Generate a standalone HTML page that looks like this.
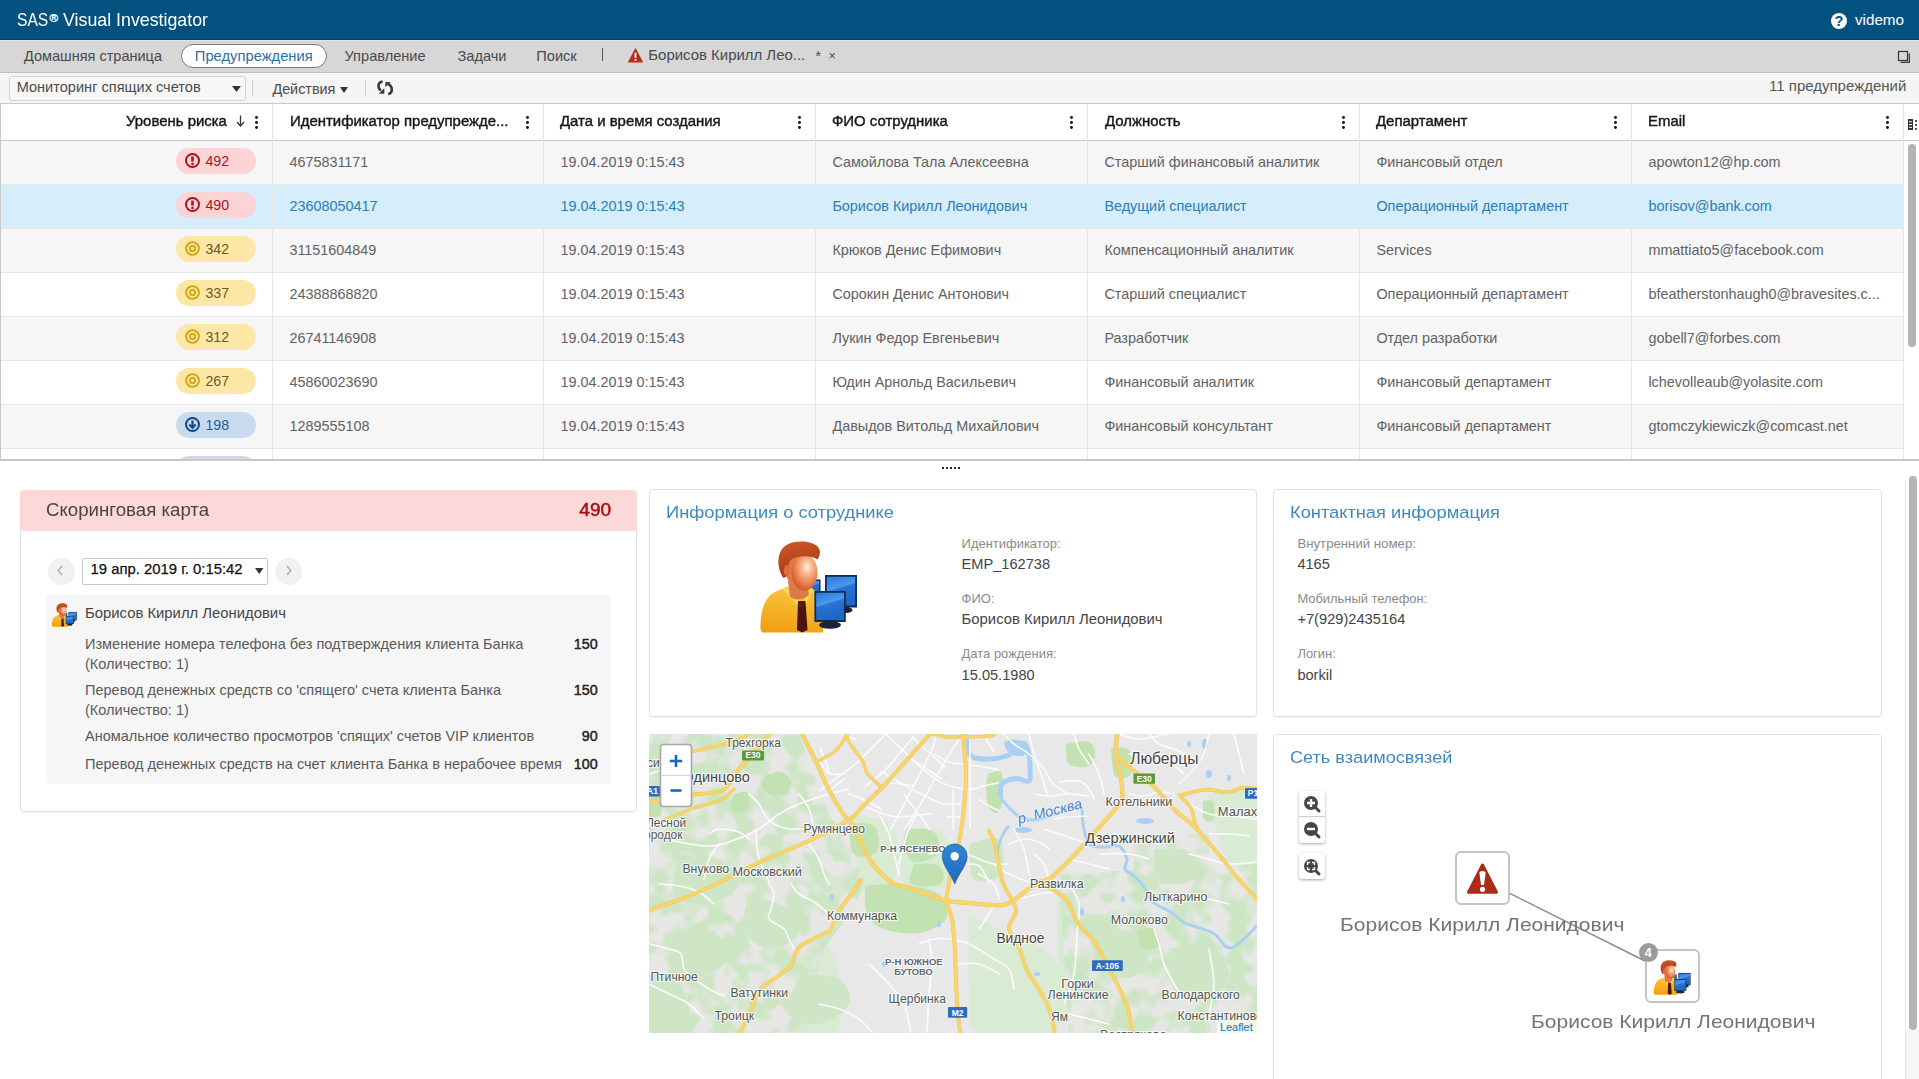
<!DOCTYPE html>
<html><head><meta charset="utf-8">
<style>
*{box-sizing:border-box}
html,body{margin:0;padding:0}
body{width:1919px;height:1079px;overflow:hidden;position:relative;background:#fff;font-family:"Liberation Sans",sans-serif;color:#444}
.a{position:absolute}
.t{position:absolute;white-space:nowrap;line-height:1}
svg.a{overflow:visible}
</style></head><body>
<div class="a" style="left:0px;top:0px;width:1919px;height:40px;background:#03517f"></div>
<div class="a" style="left:0px;top:39px;width:1919px;height:1px;background:#02466f"></div>
<div class="t" style="left:16.7px;top:10.5px;font-size:18.2px;color:#fff;transform:scaleX(0.86);transform-origin:0 0;">SAS</div>
<div class="t" style="left:49.6px;top:11.6px;font-size:11.6px;color:#fff;-webkit-text-stroke:0.35px #fff;">®</div>
<div class="t" style="left:63.0px;top:10.5px;font-size:18.2px;color:#fff;transform:scaleX(0.978);transform-origin:0 0;">Visual Investigator</div>
<svg class="a" style="left:1831px;top:13px" width="16" height="16" viewBox="0 0 16 16"><circle cx="8" cy="8" r="8" fill="#fff"/><text x="8" y="13.2" text-anchor="middle" font-family="Liberation Sans" font-weight="bold" font-size="14.5" fill="#03517f">?</text></svg>
<div class="t" style="left:1855.0px;top:11.8px;font-size:15.2px;color:#fff;">videmo</div>
<div class="a" style="left:0px;top:40px;width:1919px;height:1px;background:#dfe7ee"></div>
<div class="a" style="left:0px;top:41px;width:1919px;height:31px;background:#d7d7d7"></div>
<div class="a" style="left:0px;top:72px;width:1919px;height:1px;background:#b9bec3"></div>
<div class="t" style="left:24.0px;top:48.7px;font-size:14.5px;color:#4a4a4a;">Домашняя страница</div>
<div class="a" style="left:181px;top:44px;width:146px;height:24px;border:1px solid #6b7f8e;border-radius:12px;background:#fff"></div>
<div class="t" style="left:194.8px;top:48.7px;font-size:14.76px;color:#2d6fa0;">Предупреждения</div>
<div class="t" style="left:344.5px;top:48.6px;font-size:14.6px;color:#4a4a4a;">Управление</div>
<div class="t" style="left:457.5px;top:48.6px;font-size:14.6px;color:#4a4a4a;">Задачи</div>
<div class="t" style="left:536.3px;top:48.6px;font-size:14.6px;color:#4a4a4a;">Поиск</div>
<div class="a" style="left:602px;top:48px;width:1px;height:13px;background:#555"></div>
<svg class="a" style="left:628px;top:48px" width="15" height="15" viewBox="0 0 15 15"><path d="M7.5 1 L14.3 14 L0.7 14 Z" fill="#b5301c" stroke="#b5301c" stroke-width="1.2" stroke-linejoin="round"/><rect x="6.6" y="4.8" width="1.8" height="5" fill="#fff"/><rect x="6.6" y="11" width="1.8" height="1.8" fill="#fff"/></svg>
<div class="t" style="left:648.3px;top:48.4px;font-size:14.94px;color:#4a4a4a;">Борисов Кирилл Лео...</div>
<div class="t" style="left:815.6px;top:49.3px;font-size:14px;color:#4a4a4a;">*</div>
<div class="t" style="left:828.4px;top:50.0px;font-size:12.5px;color:#4a4a4a;">×</div>
<svg class="a" style="left:1897px;top:50px" width="14" height="14" viewBox="0 0 14 14"><rect x="1.5" y="1.5" width="9" height="9" fill="none" stroke="#333" stroke-width="1.2"/><path d="M12.3 3.5 V12.3 H3.5" fill="none" stroke="#333" stroke-width="1.2"/></svg>
<div class="a" style="left:0px;top:73px;width:1919px;height:30px;background:#f5f5f5"></div>
<div class="a" style="left:0px;top:103px;width:1919px;height:1px;background:#c9c9c9"></div>
<div class="a" style="left:9px;top:76px;width:237px;height:25px;border:1px solid #d3d3d3;border-radius:3px;background:#f7f7f7"></div>
<div class="t" style="left:16.7px;top:79.7px;font-size:14.57px;color:#4a4a4a;">Мониторинг спящих счетов</div>
<svg class="a" style="left:232px;top:86px" width="9" height="6" viewBox="0 0 9 6"><path d="M0 0H9L4.5 6Z" fill="#333"/></svg>
<div class="a" style="left:252px;top:80px;width:1px;height:16px;background:#cfcfcf"></div>
<div class="t" style="left:272.4px;top:81.7px;font-size:14.38px;color:#4a4a4a;">Действия</div>
<svg class="a" style="left:339.5px;top:86.6px" width="8" height="6" viewBox="0 0 8 6"><path d="M0 0H8L4 6Z" fill="#333"/></svg>
<div class="a" style="left:365px;top:80px;width:1px;height:16px;background:#cfcfcf"></div>
<svg class="a" style="left:376px;top:80px" width="18" height="16" viewBox="0 0 18 16"><path d="M6.6 1.4 C2.4 1.9 0.6 6.6 4.8 10.6" fill="none" stroke="#383838" stroke-width="2.5"/><path d="M2.9 13.6 L8.3 13.8 L8.3 8.3 Z" fill="#383838"/><path d="M9.5 2 L15 2.2 L9.3 7 Z" fill="#383838"/><path d="M12.4 4.2 C16.9 6.6 17.2 12.4 12.2 14.4" fill="none" stroke="#383838" stroke-width="2.5"/></svg>
<div class="t" style="right:12.7px;top:77.5px;font-size:15px;color:#555;">11 предупреждений</div>
<div class="a" style="left:0px;top:104px;width:1919px;height:36px;background:#fff"></div>
<div class="a" style="left:0px;top:140px;width:1919px;height:1px;background:#c8c8c8"></div>
<div class="a" style="left:0px;top:141px;width:1903px;height:43px;background:#f6f6f6"></div>
<div class="a" style="left:0px;top:184px;width:1903px;height:1px;background:#e6e6e6"></div>
<div class="a" style="left:0px;top:185px;width:1903px;height:43px;background:#d6edfc"></div>
<div class="a" style="left:0px;top:228px;width:1903px;height:1px;background:#e6e6e6"></div>
<div class="a" style="left:0px;top:229px;width:1903px;height:43px;background:#f6f6f6"></div>
<div class="a" style="left:0px;top:272px;width:1903px;height:1px;background:#e6e6e6"></div>
<div class="a" style="left:0px;top:273px;width:1903px;height:43px;background:#fff"></div>
<div class="a" style="left:0px;top:316px;width:1903px;height:1px;background:#e6e6e6"></div>
<div class="a" style="left:0px;top:317px;width:1903px;height:43px;background:#f6f6f6"></div>
<div class="a" style="left:0px;top:360px;width:1903px;height:1px;background:#e6e6e6"></div>
<div class="a" style="left:0px;top:361px;width:1903px;height:43px;background:#fff"></div>
<div class="a" style="left:0px;top:404px;width:1903px;height:1px;background:#e6e6e6"></div>
<div class="a" style="left:0px;top:405px;width:1903px;height:43px;background:#f6f6f6"></div>
<div class="a" style="left:0px;top:448px;width:1903px;height:1px;background:#e6e6e6"></div>
<div class="a" style="left:0px;top:449px;width:1903px;height:10px;background:#fff"></div>
<div class="a" style="left:1903px;top:141px;width:16px;height:318px;background:#fff"></div>
<div class="a" style="left:272px;top:104px;width:1px;height:355px;background:#e6e6e6"></div>
<div class="a" style="left:543px;top:104px;width:1px;height:355px;background:#e6e6e6"></div>
<div class="a" style="left:815px;top:104px;width:1px;height:355px;background:#e6e6e6"></div>
<div class="a" style="left:1087px;top:104px;width:1px;height:355px;background:#e6e6e6"></div>
<div class="a" style="left:1359px;top:104px;width:1px;height:355px;background:#e6e6e6"></div>
<div class="a" style="left:1631px;top:104px;width:1px;height:355px;background:#e6e6e6"></div>
<div class="a" style="left:1903px;top:104px;width:1px;height:355px;background:#e6e6e6"></div>
<div class="t" style="left:125.5px;top:113.7px;font-size:14px;color:#161616;transform:scaleX(1.066);transform-origin:0 0;-webkit-text-stroke:0.38px #161616;">Уровень риска</div>
<div class="t" style="left:289.5px;top:113.7px;font-size:14px;color:#161616;transform:scaleX(1.066);transform-origin:0 0;-webkit-text-stroke:0.38px #161616;">Идентификатор предупрежде...</div>
<div class="t" style="left:560.4px;top:113.7px;font-size:14px;color:#161616;transform:scaleX(1.066);transform-origin:0 0;-webkit-text-stroke:0.38px #161616;">Дата и время создания</div>
<div class="t" style="left:832.4px;top:113.7px;font-size:14px;color:#161616;transform:scaleX(1.066);transform-origin:0 0;-webkit-text-stroke:0.38px #161616;">ФИО сотрудника</div>
<div class="t" style="left:1104.8px;top:113.7px;font-size:14px;color:#161616;transform:scaleX(1.066);transform-origin:0 0;-webkit-text-stroke:0.38px #161616;">Должность</div>
<div class="t" style="left:1376.2px;top:113.7px;font-size:14px;color:#161616;transform:scaleX(1.066);transform-origin:0 0;-webkit-text-stroke:0.38px #161616;">Департамент</div>
<div class="t" style="left:1648.2px;top:113.7px;font-size:14px;color:#161616;transform:scaleX(1.066);transform-origin:0 0;-webkit-text-stroke:0.38px #161616;">Email</div>
<svg class="a" style="left:236px;top:115px" width="9" height="12" viewBox="0 0 9 12"><path d="M4.5 0.5V10" stroke="#333" stroke-width="1.3"/><path d="M1 7 L4.5 11 L8 7" fill="none" stroke="#333" stroke-width="1.3"/></svg>
<svg class="a" style="left:254.5px;top:116px" width="3" height="13" viewBox="0 0 3 13"><circle cx="1.5" cy="1.5" r="1.45" fill="#111"/><circle cx="1.5" cy="6.5" r="1.45" fill="#111"/><circle cx="1.5" cy="11.5" r="1.45" fill="#111"/></svg>
<svg class="a" style="left:525.5px;top:116px" width="3" height="13" viewBox="0 0 3 13"><circle cx="1.5" cy="1.5" r="1.45" fill="#111"/><circle cx="1.5" cy="6.5" r="1.45" fill="#111"/><circle cx="1.5" cy="11.5" r="1.45" fill="#111"/></svg>
<svg class="a" style="left:797.5px;top:116px" width="3" height="13" viewBox="0 0 3 13"><circle cx="1.5" cy="1.5" r="1.45" fill="#111"/><circle cx="1.5" cy="6.5" r="1.45" fill="#111"/><circle cx="1.5" cy="11.5" r="1.45" fill="#111"/></svg>
<svg class="a" style="left:1069.5px;top:116px" width="3" height="13" viewBox="0 0 3 13"><circle cx="1.5" cy="1.5" r="1.45" fill="#111"/><circle cx="1.5" cy="6.5" r="1.45" fill="#111"/><circle cx="1.5" cy="11.5" r="1.45" fill="#111"/></svg>
<svg class="a" style="left:1341.5px;top:116px" width="3" height="13" viewBox="0 0 3 13"><circle cx="1.5" cy="1.5" r="1.45" fill="#111"/><circle cx="1.5" cy="6.5" r="1.45" fill="#111"/><circle cx="1.5" cy="11.5" r="1.45" fill="#111"/></svg>
<svg class="a" style="left:1613.5px;top:116px" width="3" height="13" viewBox="0 0 3 13"><circle cx="1.5" cy="1.5" r="1.45" fill="#111"/><circle cx="1.5" cy="6.5" r="1.45" fill="#111"/><circle cx="1.5" cy="11.5" r="1.45" fill="#111"/></svg>
<svg class="a" style="left:1885.5px;top:116px" width="3" height="13" viewBox="0 0 3 13"><circle cx="1.5" cy="1.5" r="1.45" fill="#111"/><circle cx="1.5" cy="6.5" r="1.45" fill="#111"/><circle cx="1.5" cy="11.5" r="1.45" fill="#111"/></svg>
<svg class="a" style="left:1908px;top:117.5px" width="10" height="13" viewBox="0 0 10 13"><rect x="0" y="1" width="5" height="11" fill="#333"/><rect x="1" y="3.2" width="3" height="1" fill="#fff"/><rect x="1" y="6" width="3" height="1" fill="#fff"/><rect x="1" y="8.8" width="3" height="1" fill="#fff"/><rect x="7" y="2" width="2" height="2" fill="#555"/><rect x="7" y="6" width="2" height="2" fill="#555"/><rect x="7" y="10" width="2" height="2" fill="#555"/></svg>
<div class="a" style="left:176px;top:148px;width:80px;height:26px;border-radius:13px;background:#fdd4d6"></div>
<svg class="a" style="left:184px;top:152px" width="17" height="17" viewBox="0 0 17 17"><circle cx="8.5" cy="8.5" r="6.5" fill="none" stroke="#a8141c" stroke-width="2"/><path d="M8.5 4.5V9.5" stroke="#a8141c" stroke-width="2.6"/><circle cx="8.5" cy="11.9" r="1.3" fill="#a8141c"/></svg>
<div class="t" style="left:205.4px;top:154.0px;font-size:14.2px;color:#a8141c;">492</div>
<div class="t" style="left:289.4px;top:154.8px;font-size:14.4px;color:#626262;">4675831171</div>
<div class="t" style="left:560.4px;top:154.8px;font-size:14.4px;color:#626262;">19.04.2019 0:15:43</div>
<div class="t" style="left:832.4px;top:154.8px;font-size:14.4px;color:#626262;">Самойлова Тала Алексеевна</div>
<div class="t" style="left:1104.4px;top:154.8px;font-size:14.4px;color:#626262;">Старший финансовый аналитик</div>
<div class="t" style="left:1376.4px;top:154.8px;font-size:14.4px;color:#626262;">Финансовый отдел</div>
<div class="t" style="left:1648.4px;top:154.8px;font-size:14.4px;color:#626262;">apowton12@hp.com</div>
<div class="a" style="left:176px;top:192px;width:80px;height:26px;border-radius:13px;background:#fdd4d6"></div>
<svg class="a" style="left:184px;top:196px" width="17" height="17" viewBox="0 0 17 17"><circle cx="8.5" cy="8.5" r="6.5" fill="none" stroke="#a8141c" stroke-width="2"/><path d="M8.5 4.5V9.5" stroke="#a8141c" stroke-width="2.6"/><circle cx="8.5" cy="11.9" r="1.3" fill="#a8141c"/></svg>
<div class="t" style="left:205.4px;top:198.0px;font-size:14.2px;color:#a8141c;">490</div>
<div class="t" style="left:289.4px;top:198.8px;font-size:14.4px;color:#2a7db5;">23608050417</div>
<div class="t" style="left:560.4px;top:198.8px;font-size:14.4px;color:#2a7db5;">19.04.2019 0:15:43</div>
<div class="t" style="left:832.4px;top:198.8px;font-size:14.4px;color:#2a7db5;">Борисов Кирилл Леонидович</div>
<div class="t" style="left:1104.4px;top:198.8px;font-size:14.4px;color:#2a7db5;">Ведущий специалист</div>
<div class="t" style="left:1376.4px;top:198.8px;font-size:14.4px;color:#2a7db5;">Операционный департамент</div>
<div class="t" style="left:1648.4px;top:198.8px;font-size:14.4px;color:#2a7db5;">borisov@bank.com</div>
<div class="a" style="left:176px;top:236px;width:80px;height:26px;border-radius:13px;background:#fde7a6"></div>
<svg class="a" style="left:184px;top:240px" width="17" height="17" viewBox="0 0 17 17"><circle cx="8.5" cy="8.5" r="6.4" fill="none" stroke="#d2a406" stroke-width="1.9"/><circle cx="8.5" cy="8.5" r="2.6" fill="none" stroke="#d2a406" stroke-width="1.8"/></svg>
<div class="t" style="left:205.4px;top:242.0px;font-size:14.2px;color:#6a5a1c;">342</div>
<div class="t" style="left:289.4px;top:242.8px;font-size:14.4px;color:#626262;">31151604849</div>
<div class="t" style="left:560.4px;top:242.8px;font-size:14.4px;color:#626262;">19.04.2019 0:15:43</div>
<div class="t" style="left:832.4px;top:242.8px;font-size:14.4px;color:#626262;">Крюков Денис Ефимович</div>
<div class="t" style="left:1104.4px;top:242.8px;font-size:14.4px;color:#626262;">Компенсационный аналитик</div>
<div class="t" style="left:1376.4px;top:242.8px;font-size:14.4px;color:#626262;">Services</div>
<div class="t" style="left:1648.4px;top:242.8px;font-size:14.4px;color:#626262;">mmattiato5@facebook.com</div>
<div class="a" style="left:176px;top:280px;width:80px;height:26px;border-radius:13px;background:#fde7a6"></div>
<svg class="a" style="left:184px;top:284px" width="17" height="17" viewBox="0 0 17 17"><circle cx="8.5" cy="8.5" r="6.4" fill="none" stroke="#d2a406" stroke-width="1.9"/><circle cx="8.5" cy="8.5" r="2.6" fill="none" stroke="#d2a406" stroke-width="1.8"/></svg>
<div class="t" style="left:205.4px;top:286.0px;font-size:14.2px;color:#6a5a1c;">337</div>
<div class="t" style="left:289.4px;top:286.8px;font-size:14.4px;color:#626262;">24388868820</div>
<div class="t" style="left:560.4px;top:286.8px;font-size:14.4px;color:#626262;">19.04.2019 0:15:43</div>
<div class="t" style="left:832.4px;top:286.8px;font-size:14.4px;color:#626262;">Сорокин Денис Антонович</div>
<div class="t" style="left:1104.4px;top:286.8px;font-size:14.4px;color:#626262;">Старший специалист</div>
<div class="t" style="left:1376.4px;top:286.8px;font-size:14.4px;color:#626262;">Операционный департамент</div>
<div class="t" style="left:1648.4px;top:286.8px;font-size:14.4px;color:#626262;">bfeatherstonhaugh0@bravesites.c...</div>
<div class="a" style="left:176px;top:324px;width:80px;height:26px;border-radius:13px;background:#fde7a6"></div>
<svg class="a" style="left:184px;top:328px" width="17" height="17" viewBox="0 0 17 17"><circle cx="8.5" cy="8.5" r="6.4" fill="none" stroke="#d2a406" stroke-width="1.9"/><circle cx="8.5" cy="8.5" r="2.6" fill="none" stroke="#d2a406" stroke-width="1.8"/></svg>
<div class="t" style="left:205.4px;top:330.0px;font-size:14.2px;color:#6a5a1c;">312</div>
<div class="t" style="left:289.4px;top:330.8px;font-size:14.4px;color:#626262;">26741146908</div>
<div class="t" style="left:560.4px;top:330.8px;font-size:14.4px;color:#626262;">19.04.2019 0:15:43</div>
<div class="t" style="left:832.4px;top:330.8px;font-size:14.4px;color:#626262;">Лукин Федор Евгеньевич</div>
<div class="t" style="left:1104.4px;top:330.8px;font-size:14.4px;color:#626262;">Разработчик</div>
<div class="t" style="left:1376.4px;top:330.8px;font-size:14.4px;color:#626262;">Отдел разработки</div>
<div class="t" style="left:1648.4px;top:330.8px;font-size:14.4px;color:#626262;">gobell7@forbes.com</div>
<div class="a" style="left:176px;top:368px;width:80px;height:26px;border-radius:13px;background:#fde7a6"></div>
<svg class="a" style="left:184px;top:372px" width="17" height="17" viewBox="0 0 17 17"><circle cx="8.5" cy="8.5" r="6.4" fill="none" stroke="#d2a406" stroke-width="1.9"/><circle cx="8.5" cy="8.5" r="2.6" fill="none" stroke="#d2a406" stroke-width="1.8"/></svg>
<div class="t" style="left:205.4px;top:374.0px;font-size:14.2px;color:#6a5a1c;">267</div>
<div class="t" style="left:289.4px;top:374.8px;font-size:14.4px;color:#626262;">45860023690</div>
<div class="t" style="left:560.4px;top:374.8px;font-size:14.4px;color:#626262;">19.04.2019 0:15:43</div>
<div class="t" style="left:832.4px;top:374.8px;font-size:14.4px;color:#626262;">Юдин Арнольд Васильевич</div>
<div class="t" style="left:1104.4px;top:374.8px;font-size:14.4px;color:#626262;">Финансовый аналитик</div>
<div class="t" style="left:1376.4px;top:374.8px;font-size:14.4px;color:#626262;">Финансовый департамент</div>
<div class="t" style="left:1648.4px;top:374.8px;font-size:14.4px;color:#626262;">lchevolleaub@yolasite.com</div>
<div class="a" style="left:176px;top:412px;width:80px;height:26px;border-radius:13px;background:#c9d9ef"></div>
<svg class="a" style="left:184px;top:416px" width="17" height="17" viewBox="0 0 17 17"><circle cx="8.5" cy="8.5" r="6.5" fill="none" stroke="#0b4a8a" stroke-width="2"/><path d="M8.5 4.5V11.5" stroke="#0b4a8a" stroke-width="2.2"/><path d="M5.3 8.5 L8.5 12.1 L11.7 8.5" fill="none" stroke="#0b4a8a" stroke-width="2"/></svg>
<div class="t" style="left:205.4px;top:418.0px;font-size:14.2px;color:#245c98;">198</div>
<div class="t" style="left:289.4px;top:418.8px;font-size:14.4px;color:#626262;">1289555108</div>
<div class="t" style="left:560.4px;top:418.8px;font-size:14.4px;color:#626262;">19.04.2019 0:15:43</div>
<div class="t" style="left:832.4px;top:418.8px;font-size:14.4px;color:#626262;">Давыдов Витольд Михайлович</div>
<div class="t" style="left:1104.4px;top:418.8px;font-size:14.4px;color:#626262;">Финансовый консультант</div>
<div class="t" style="left:1376.4px;top:418.8px;font-size:14.4px;color:#626262;">Финансовый департамент</div>
<div class="t" style="left:1648.4px;top:418.8px;font-size:14.4px;color:#626262;">gtomczykiewiczk@comcast.net</div>
<div class="a" style="left:176px;top:456px;width:80px;height:3px;overflow:hidden"><div style="width:80px;height:26px;border-radius:13px;background:#d0d8ea"></div></div>
<div class="a" style="left:1908px;top:144px;width:8px;height:203px;border-radius:4px;background:#b4b4b4"></div>
<div class="a" style="left:0px;top:459px;width:1919px;height:2px;background:#c8c8c8"></div>
<div class="a" style="left:0px;top:104px;width:1px;height:356px;background:#c9c9c9"></div>
<div class="a" style="left:942px;top:467px;width:2px;height:2px;background:#1b2838"></div>
<div class="a" style="left:946px;top:467px;width:2px;height:2px;background:#1b2838"></div>
<div class="a" style="left:950px;top:467px;width:2px;height:2px;background:#1b2838"></div>
<div class="a" style="left:954px;top:467px;width:2px;height:2px;background:#1b2838"></div>
<div class="a" style="left:958px;top:467px;width:2px;height:2px;background:#1b2838"></div>
<svg width="0" height="0" style="position:absolute;left:0;top:0"><defs>
<radialGradient id="pf" cx="0.6" cy="0.35" r="0.65"><stop offset="0" stop-color="#fff1e8"/><stop offset="0.3" stop-color="#f9b990"/><stop offset="0.75" stop-color="#e87a48"/><stop offset="1" stop-color="#d35a28"/></radialGradient>
<linearGradient id="ph" x1="0" y1="0" x2="0.3" y2="1"><stop offset="0" stop-color="#d0582a"/><stop offset="1" stop-color="#a83816"/></linearGradient>
<linearGradient id="pb" x1="0.3" y1="0" x2="0.1" y2="1"><stop offset="0" stop-color="#fac43a"/><stop offset="1" stop-color="#f09e12"/></linearGradient>
<linearGradient id="pm" x1="0" y1="0" x2="0.3" y2="1"><stop offset="0" stop-color="#2d78d8"/><stop offset="0.45" stop-color="#4c98ec"/><stop offset="0.5" stop-color="#2a74d2"/><stop offset="1" stop-color="#1f66c6"/></linearGradient>
</defs>
</svg>
<div class="a" style="left:20px;top:490px;width:617px;height:322px;border:1px solid #e1e1e1;border-radius:4px;box-shadow:0 1px 2px rgba(0,0,0,.06);background:#fff"></div>
<div class="a" style="left:20px;top:490px;width:617px;height:41px;border-radius:4px 4px 0 0;background:#fdd8d8"></div>
<div class="t" style="left:45.6px;top:501.5px;font-size:17.5px;color:#4b4242;transform:scaleX(1.066);transform-origin:0 0;">Скоринговая карта</div>
<div class="t" style="right:1308.2px;top:501.5px;font-size:17.5px;color:#a50f12;transform:scaleX(1.09);transform-origin:100% 0;-webkit-text-stroke:0.45px #a50f12;">490</div>
<div class="a" style="left:47.5px;top:557.5px;width:27px;height:27px;border-radius:50%;background:#f1f1f1"></div>
<svg class="a" style="left:57px;top:565px" width="6" height="11" viewBox="0 0 6 11"><path d="M5 1 L1.2 5.5 L5 10" fill="none" stroke="#b0b0b0" stroke-width="1.5"/></svg>
<div class="a" style="left:82px;top:558px;width:186px;height:27px;border:1px solid #c9c9c9;border-radius:2px;background:#fff"></div>
<div class="t" style="left:90.6px;top:562.4px;font-size:14.85px;color:#111;-webkit-text-stroke:0.25px #111;">19 апр. 2019 г. 0:15:42</div>
<svg class="a" style="left:254.5px;top:568px" width="8.5" height="6" viewBox="0 0 8.5 6"><path d="M0 0H8.5L4.25 6Z" fill="#333"/></svg>
<div class="a" style="left:275.3px;top:557.5px;width:27px;height:27px;border-radius:50%;background:#f1f1f1"></div>
<svg class="a" style="left:286px;top:565px" width="6" height="11" viewBox="0 0 6 11"><path d="M1 1 L4.8 5.5 L1 10" fill="none" stroke="#b0b0b0" stroke-width="1.5"/></svg>
<div class="a" style="left:46px;top:595px;width:565px;height:189px;border-radius:3px;background:#f6f6f6"></div>
<svg class="a" style="left:52px;top:603px" width="25" height="24" viewBox="0 0 97 92">
<rect x="46.5" y="38.5" width="13" height="14" fill="#0e2e5a"/><rect x="48" y="40" width="10" height="11" fill="url(#pm)"/>
<rect x="64" y="34" width="32" height="32.5" fill="#0e2e5a"/><rect x="65.8" y="35.8" width="28.4" height="28.6" fill="url(#pm)"/>
<ellipse cx="85.5" cy="69" rx="6" ry="3" fill="#1a2638"/><rect x="83" y="65" width="5" height="4" fill="#1a2638"/>
<path d="M-0.5 88 C-1 70 4 54 16 50 L27 45.5 L49 46.5 L55 50 C60 56 62 70 62 91.5 L1 91.5 Z" fill="url(#pb)"/>
<path d="M22 48 L36 64 L39 56 L30 46 Z" fill="#fcd75c"/><path d="M52 48 L45 64 L43 56 L48 46 Z" fill="#fcd75c"/>
<path d="M27 40 L46 40 L48 54 Q38 62 29 56 Z" fill="#e0794a"/>
<path d="M37 61 L44.5 61 L46.5 89 L41 91.5 L36 89 Z" fill="#4a1410"/><path d="M37 60 L44.5 60 L43.5 66 L38 66 Z" fill="#5c1a12"/>
<ellipse cx="39" cy="30" rx="14" ry="17" fill="#e27a48"/>
<ellipse cx="43.5" cy="31.5" rx="13" ry="18" fill="url(#pf)"/>
<path d="M22.5 37 C16 28 15 12 24 5 C32 -1 50 -1 57 6 C60 10 59.5 14 56.5 18.5 C50 14 38 14.5 31 18 C27.5 20.5 26.5 27 26.5 35 Z" fill="url(#ph)"/>
<ellipse cx="26" cy="29.5" rx="3.2" ry="5.5" fill="#dd6e3c"/>
<rect x="53.4" y="50" width="31.4" height="31" fill="#0e2e5a"/><rect x="55.2" y="51.8" width="27.8" height="27.2" fill="url(#pm)"/>
<ellipse cx="69" cy="84" rx="11" ry="3.8" fill="#1a2638"/><rect x="66.5" y="80" width="5" height="4" fill="#1a2638"/>
</svg>
<div class="t" style="left:85.0px;top:606.4px;font-size:14.85px;color:#454545;">Борисов Кирилл Леонидович</div>
<div class="t" style="left:85.0px;top:637.3px;font-size:14.54px;color:#5a5a5a;">Изменение номера телефона без подтверждения клиента Банка</div>
<div class="t" style="left:85.0px;top:657.3px;font-size:14.54px;color:#5a5a5a;">(Количество: 1)</div>
<div class="t" style="left:85.0px;top:683.3px;font-size:14.54px;color:#5a5a5a;">Перевод денежных средств со 'спящего' счета клиента Банка</div>
<div class="t" style="left:85.0px;top:703.3px;font-size:14.54px;color:#5a5a5a;">(Количество: 1)</div>
<div class="t" style="left:85.0px;top:729.3px;font-size:14.54px;color:#5a5a5a;">Аномальное количество просмотров 'спящих' счетов VIP клиентов</div>
<div class="t" style="left:85.0px;top:757.1px;font-size:14.54px;color:#5a5a5a;">Перевод денежных средств на счет клиента Банка в нерабочее время</div>
<div class="t" style="right:1321.4px;top:637.4px;font-size:14.3px;color:#222;-webkit-text-stroke:0.45px #222;">150</div>
<div class="t" style="right:1321.4px;top:683.4px;font-size:14.3px;color:#222;-webkit-text-stroke:0.45px #222;">150</div>
<div class="t" style="right:1321.4px;top:729.4px;font-size:14.3px;color:#222;-webkit-text-stroke:0.45px #222;">90</div>
<div class="t" style="right:1321.4px;top:757.4px;font-size:14.3px;color:#222;-webkit-text-stroke:0.45px #222;">100</div>
<div class="a" style="left:649px;top:489px;width:608px;height:228px;border:1px solid #e1e1e1;border-radius:4px;box-shadow:0 1px 2px rgba(0,0,0,.06);background:#fff"></div>
<div class="t" style="left:666.0px;top:504.4px;font-size:17.2px;color:#4189bd;transform:scaleX(1.065);transform-origin:0 0;">Информация о сотруднике</div>
<svg class="a" style="left:761px;top:541px" width="97" height="92" viewBox="0 0 97 92">
<rect x="46.5" y="38.5" width="13" height="14" fill="#0e2e5a"/><rect x="48" y="40" width="10" height="11" fill="url(#pm)"/>
<rect x="64" y="34" width="32" height="32.5" fill="#0e2e5a"/><rect x="65.8" y="35.8" width="28.4" height="28.6" fill="url(#pm)"/>
<ellipse cx="85.5" cy="69" rx="6" ry="3" fill="#1a2638"/><rect x="83" y="65" width="5" height="4" fill="#1a2638"/>
<path d="M-0.5 88 C-1 70 4 54 16 50 L27 45.5 L49 46.5 L55 50 C60 56 62 70 62 91.5 L1 91.5 Z" fill="url(#pb)"/>
<path d="M22 48 L36 64 L39 56 L30 46 Z" fill="#fcd75c"/><path d="M52 48 L45 64 L43 56 L48 46 Z" fill="#fcd75c"/>
<path d="M27 40 L46 40 L48 54 Q38 62 29 56 Z" fill="#e0794a"/>
<path d="M37 61 L44.5 61 L46.5 89 L41 91.5 L36 89 Z" fill="#4a1410"/><path d="M37 60 L44.5 60 L43.5 66 L38 66 Z" fill="#5c1a12"/>
<ellipse cx="39" cy="30" rx="14" ry="17" fill="#e27a48"/>
<ellipse cx="43.5" cy="31.5" rx="13" ry="18" fill="url(#pf)"/>
<path d="M22.5 37 C16 28 15 12 24 5 C32 -1 50 -1 57 6 C60 10 59.5 14 56.5 18.5 C50 14 38 14.5 31 18 C27.5 20.5 26.5 27 26.5 35 Z" fill="url(#ph)"/>
<ellipse cx="26" cy="29.5" rx="3.2" ry="5.5" fill="#dd6e3c"/>
<rect x="53.4" y="50" width="31.4" height="31" fill="#0e2e5a"/><rect x="55.2" y="51.8" width="27.8" height="27.2" fill="url(#pm)"/>
<ellipse cx="69" cy="84" rx="11" ry="3.8" fill="#1a2638"/><rect x="66.5" y="80" width="5" height="4" fill="#1a2638"/>
</svg>
<div class="t" style="left:961.6px;top:537.5px;font-size:12.96px;color:#8a8a8a;">Идентификатор:</div>
<div class="t" style="left:961.6px;top:556.6px;font-size:14.6px;color:#444;">EMP_162738</div>
<div class="t" style="left:961.6px;top:592.5px;font-size:12.96px;color:#8a8a8a;">ФИО:</div>
<div class="t" style="left:961.6px;top:611.8px;font-size:14.85px;color:#444;">Борисов Кирилл Леонидович</div>
<div class="t" style="left:961.6px;top:648.0px;font-size:12.96px;color:#8a8a8a;">Дата рождения:</div>
<div class="t" style="left:961.6px;top:668.2px;font-size:14.6px;color:#444;">15.05.1980</div>
<div class="a" style="left:1273px;top:489px;width:609px;height:228px;border:1px solid #e1e1e1;border-radius:4px;box-shadow:0 1px 2px rgba(0,0,0,.06);background:#fff"></div>
<div class="t" style="left:1289.5px;top:504.4px;font-size:17.2px;color:#4189bd;transform:scaleX(1.063);transform-origin:0 0;">Контактная информация</div>
<div class="t" style="left:1297.4px;top:537.3px;font-size:13.21px;color:#8a8a8a;">Внутренний номер:</div>
<div class="t" style="left:1297.4px;top:556.6px;font-size:14.6px;color:#444;">4165</div>
<div class="t" style="left:1297.4px;top:592.6px;font-size:12.92px;color:#8a8a8a;">Мобильный телефон:</div>
<div class="t" style="left:1297.4px;top:612.0px;font-size:14.66px;color:#444;">+7(929)2435164</div>
<div class="t" style="left:1297.4px;top:648.0px;font-size:12.96px;color:#8a8a8a;">Логин:</div>
<div class="t" style="left:1297.4px;top:668.2px;font-size:14.6px;color:#444;">borkil</div>
<svg class="a" style="left:649px;top:734px;overflow:hidden" width="608" height="299" viewBox="0 0 608 299"><rect width="608" height="299" fill="#e8e8e8"/><path d="M0,95 C6.7,97.5 28.3,109.2 40,110 C51.7,110.8 56.7,98.7 70,100 C83.3,101.3 106.7,116.0 120,118 C133.3,120.0 136.7,110.8 150,112 C163.3,113.2 189.2,118.7 200,125 C210.8,131.3 215.0,141.7 215,150 C215.0,158.3 207.5,165.8 200,175 C192.5,184.2 180.0,195.8 170,205 C160.0,214.2 150.0,221.7 140,230 C130.0,238.3 118.3,243.3 110,255 C101.7,266.7 108.3,292.5 90,300 C71.7,307.5 15.0,334.2 0,300 C-15.0,265.8 0.0,129.2 0,95Z" fill="#d9ebd3"/><path d="M0,175 C10.0,170.8 43.3,155.8 60,150 C76.7,144.2 88.3,140.0 100,140 C111.7,140.0 120.0,145.0 130,150 C140.0,155.0 151.7,161.7 160,170 C168.3,178.3 178.3,190.0 180,200 C181.7,210.0 175.0,220.0 170,230 C165.0,240.0 156.7,248.3 150,260 C143.3,271.7 155.0,293.3 130,300 C105.0,306.7 21.7,320.8 0,300 C-21.7,279.2 0.0,195.8 0,175Z" fill="#d9ebd3"/><path d="M120,190 C128.3,192.5 158.3,196.7 170,205 C181.7,213.3 187.5,224.2 190,240 C192.5,255.8 196.7,290.0 185,300 C173.3,310.0 130.8,318.3 120,300 C109.2,281.7 120.0,208.3 120,190Z" fill="#d9ebd3"/><path d="M410,150 C418.3,148.3 445.0,140.0 460,140 C475.0,140.0 486.7,150.0 500,150 C513.3,150.0 522.0,140.0 540,140 C558.0,140.0 596.7,123.3 608,150 C619.3,176.7 629.3,275.0 608,300 C586.7,325.0 509.7,303.3 480,300 C450.3,296.7 441.7,291.7 430,280 C418.3,268.3 413.3,251.7 410,230 C406.7,208.3 410.0,163.3 410,150Z" fill="#d9ebd3"/><path d="M490,105 C499.2,105.5 533.3,103.8 545,108 C556.7,112.2 558.3,123.0 560,130 C561.7,137.0 565.0,146.7 555,150 C545.0,153.3 510.8,157.5 500,150 C489.2,142.5 491.7,112.5 490,105Z" fill="#d9ebd3"/><path d="M320,180 C326.7,183.3 346.7,193.3 360,200 C373.3,206.7 390.0,210.0 400,220 C410.0,230.0 420.0,246.7 420,260 C420.0,273.3 415.0,293.3 400,300 C385.0,306.7 343.3,308.3 330,300 C316.7,291.7 321.7,270.0 320,250 C318.3,230.0 320.0,191.7 320,180Z" fill="#d9ebd3"/><path d="M200,80 C206.7,81.7 231.7,83.3 240,90 C248.3,96.7 250.0,110.0 250,120 C250.0,130.0 247.5,145.0 240,150 C232.5,155.0 211.7,161.7 205,150 C198.3,138.3 200.8,91.7 200,80Z" fill="#d9ebd3"/><path d="M255,95 C261.7,95.8 287.5,90.8 295,100 C302.5,109.2 306.7,141.7 300,150 C293.3,158.3 262.5,159.2 255,150 C247.5,140.8 255.0,104.2 255,95Z" fill="#d9ebd3"/><path d="M560,60 C568.0,60.0 600.0,46.7 608,60 C616.0,73.3 613.5,130.0 608,140 C602.5,150.0 583.0,133.3 575,120 C567.0,106.7 562.5,70.0 560,60Z" fill="#d9ebd3"/><path d="M60,60 C68.3,59.2 95.0,53.3 110,55 C125.0,56.7 143.3,63.3 150,70 C156.7,76.7 156.7,90.0 150,95 C143.3,100.0 125.0,100.0 110,100 C95.0,100.0 68.3,101.7 60,95 C51.7,88.3 60.0,65.8 60,60Z" fill="#d9ebd3"/><defs><filter id="mot" x="0" y="0" width="1" height="1" color-interpolation-filters="sRGB"><feTurbulence type="fractalNoise" baseFrequency="0.05" numOctaves="2" seed="11"/><feColorMatrix type="matrix" values="0 0 0 0 0.80  0 0 0 0 0.90  0 0 0 0 0.77  0 0 0 -5 3.0"/></filter><clipPath id="motc"><path d="M0,0 L150,0 L165,40 L180,80 L205,118 L215,150 L200,180 L175,215 L150,300 L0,300 Z M410,140 L608,130 L608,300 L420,300 Z M485,100 L560,100 L560,145 L485,145 Z"/></clipPath></defs><path d="M0,0 L150,0 L165,40 L180,80 L205,118 L215,150 L200,180 L175,215 L150,300 L0,300 Z M410,140 L608,130 L608,300 L420,300 Z M485,100 L560,100 L560,145 L485,145 Z" fill="#e7e7e5"/><rect width="608" height="299" filter="url(#mot)" clip-path="url(#motc)"/><path d="M30,120 C36.7,120.8 60.0,120.0 70,125 C80.0,130.0 91.7,142.5 90,150 C88.3,157.5 70.8,168.3 60,170 C49.2,171.7 30.0,168.3 25,160 C20.0,151.7 29.2,126.7 30,120Z" fill="#cfe6c6"/><path d="M100,160 C106.7,162.5 131.7,168.3 140,175 C148.3,181.7 153.3,193.3 150,200 C146.7,206.7 129.2,215.8 120,215 C110.8,214.2 98.3,204.2 95,195 C91.7,185.8 99.2,165.8 100,160Z" fill="#cfe6c6"/><path d="M20,200 C26.7,199.2 50.0,191.7 60,195 C70.0,198.3 80.0,212.5 80,220 C80.0,227.5 69.2,237.5 60,240 C50.8,242.5 31.7,241.7 25,235 C18.3,228.3 20.8,205.8 20,200Z" fill="#cfe6c6"/><path d="M150,240 C156.7,240.8 181.7,240.0 190,245 C198.3,250.0 203.3,262.5 200,270 C196.7,277.5 180.0,288.3 170,290 C160.0,291.7 143.3,288.3 140,280 C136.7,271.7 148.3,246.7 150,240Z" fill="#cfe6c6"/><path d="M440,200 C445.0,199.2 460.0,193.3 470,195 C480.0,196.7 496.7,202.5 500,210 C503.3,217.5 497.5,235.0 490,240 C482.5,245.0 463.3,246.7 455,240 C446.7,233.3 442.5,206.7 440,200Z" fill="#cfe6c6"/><path d="M520,215 C526.7,214.2 550.0,205.8 560,210 C570.0,214.2 580.0,230.8 580,240 C580.0,249.2 569.2,262.5 560,265 C550.8,267.5 531.7,263.3 525,255 C518.3,246.7 520.8,221.7 520,215Z" fill="#cfe6c6"/><path d="M505,115 C510.8,115.5 533.3,113.0 540,118 C546.7,123.0 550.0,140.0 545,145 C540.0,150.0 516.7,153.0 510,148 C503.3,143.0 505.8,120.5 505,115Z" fill="#cfe6c6"/><path d="M0,240 C5.0,241.7 23.3,241.7 30,250 C36.7,258.3 45.0,281.8 40,290 C35.0,298.2 6.7,307.3 0,299 C-6.7,290.7 0.0,249.8 0,240Z" fill="#cfe6c6"/><path d="M320,110 C325.0,109.2 344.7,100.0 350,105 C355.3,110.0 356.2,133.3 352,140 C347.8,146.7 330.3,150.0 325,145 C319.7,140.0 320.8,115.8 320,110Z" fill="#cfe6c6"/><path d="M116,42 C118.7,41.3 127.7,37.0 132,38 C136.3,39.0 141.3,44.3 142,48 C142.7,51.7 139.7,58.0 136,60 C132.3,62.0 124.0,61.3 120,60 C116.0,58.7 112.7,55.0 112,52 C111.3,49.0 115.3,43.7 116,42Z" fill="#c3e2b1"/><path d="M85,60 C87.2,59.7 95.5,56.0 98,58 C100.5,60.0 101.7,68.3 100,72 C98.3,75.7 91.0,80.3 88,80 C85.0,79.7 82.5,73.3 82,70 C81.5,66.7 84.5,61.7 85,60Z" fill="#c3e2b1"/><path d="M339,40 C341.2,39.7 349.5,34.7 352,38 C354.5,41.3 354.3,53.3 354,60 C353.7,66.7 352.3,75.7 350,78 C347.7,80.3 342.2,77.8 340,74 C337.8,70.2 337.2,60.7 337,55 C336.8,49.3 338.7,42.5 339,40Z" fill="#c3e2b1"/><path d="M417,10 C420.8,9.7 435.2,6.3 440,8 C444.8,9.7 446.0,16.0 446,20 C446.0,24.0 444.3,30.3 440,32 C435.7,33.7 423.8,33.7 420,30 C416.2,26.3 417.5,13.3 417,10Z" fill="#c3e2b1"/><path d="M462,14 C465.0,14.3 476.7,11.7 480,16 C483.3,20.3 484.3,35.7 482,40 C479.7,44.3 469.3,46.3 466,42 C462.7,37.7 462.7,18.7 462,14Z" fill="#c3e2b1"/><path d="M554,67 C555.7,67.2 562.3,64.8 564,68 C565.7,71.2 565.5,83.2 564,86 C562.5,88.8 556.7,88.2 555,85 C553.3,81.8 554.2,70.0 554,67Z" fill="#c3e2b1"/><path d="M216,152 C221.7,151.7 237.7,148.7 250,150 C262.3,151.3 282.2,154.2 290,160 C297.8,165.8 300.3,178.5 297,185 C293.7,191.5 280.3,197.3 270,199 C259.7,200.7 243.7,198.2 235,195 C226.3,191.8 221.2,187.2 218,180 C214.8,172.8 216.3,156.7 216,152Z" fill="#c3e2b1"/><path d="M488,196 C490.8,195.8 501.3,192.3 505,195 C508.7,197.7 512.2,208.8 510,212 C507.8,215.2 495.7,216.7 492,214 C488.3,211.3 488.7,199.0 488,196Z" fill="#c3e2b1"/><path d="M258,95 C262.5,95.5 280.0,93.8 285,98 C290.0,102.2 291.3,115.0 288,120 C284.7,125.0 270.5,129.3 265,128 C259.5,126.7 256.2,117.5 255,112 C253.8,106.5 257.5,97.8 258,95Z" fill="#c3e2b1"/><path d="M200,90 C204.2,90.3 220.3,87.3 225,92 C229.7,96.7 231.3,113.3 228,118 C224.7,122.7 209.7,124.7 205,120 C200.3,115.3 200.8,95.0 200,90Z" fill="#c3e2b1"/><path d="M0,60 C1.7,59.7 8.0,54.7 10,58 C12.0,61.3 13.7,76.0 12,80 C10.3,84.0 2.0,85.3 0,82 C-2.0,78.7 0.0,63.7 0,60Z" fill="#c3e2b1"/><path d="M265,130 C269.2,130.3 285.5,128.7 290,132 C294.5,135.3 296.7,147.0 292,150 C287.3,153.0 266.5,153.3 262,150 C257.5,146.7 264.5,133.3 265,130Z" fill="#c3e2b1"/><path d="M319.6,0 C319.8,3.5 317.8,16.8 321,21 C324.2,25.2 332.5,25.0 339,25 C345.5,25.0 355.3,22.8 360,21 C364.7,19.2 364.5,16.0 367,14 C369.5,12.0 372.8,8.0 375,9 C377.2,10.0 379.0,15.7 380,20 C381.0,24.3 381.0,30.5 381,35 C381.0,39.5 382.3,45.4 380,47 C377.7,48.6 371.5,44.0 367,44.5 C362.5,45.0 355.6,47.0 353,50 C350.4,53.0 350.4,58.6 351.6,62.6 C352.8,66.5 356.9,70.5 360,73.7 C363.1,76.9 365.8,80.0 370,82 C374.2,84.0 380.0,86.0 385,86 C390.0,86.0 394.2,83.8 400,82 C405.8,80.2 414.7,76.5 420,75 C425.3,73.5 429.7,70.5 432,73 C434.3,75.5 432.7,83.8 434,90 C435.3,96.2 436.5,106.2 440,110 C443.5,113.8 450.0,112.7 455,113 C460.0,113.3 466.2,110.0 470,112 C473.8,114.0 477.0,121.2 478,125 C479.0,128.8 474.8,132.2 476,135 C477.2,137.8 482.2,139.5 485,142 C487.8,144.5 489.8,145.7 493,150 C496.2,154.3 499.2,163.3 504,168 C508.8,172.7 516.7,174.5 522,178 C527.3,181.5 529.0,185.5 536,189 C543.0,192.5 556.3,194.8 564,199 C571.7,203.2 574.7,215.2 582,214 C589.3,212.8 603.7,195.7 608,192" fill="none" stroke="#a9d0f2" stroke-width="3"/><path d="M319.6,0 C319.8,3.5 317.8,16.8 321,21 C324.2,25.2 332.5,25.0 339,25 C345.5,25.0 355.3,22.8 360,21 C364.7,19.2 364.5,16.0 367,14 C369.5,12.0 372.8,8.0 375,9 C377.2,10.0 379.0,15.7 380,20 C381.0,24.3 381.0,30.5 381,35 C381.0,39.5 382.3,45.4 380,47 C377.7,48.6 371.5,44.0 367,44.5 C362.5,45.0 355.6,47.0 353,50 C350.4,53.0 351.8,60.5 351.6,62.6" fill="none" stroke="#a9d0f2" stroke-width="5"/><path d="M355,8 C362,4 372,5 378,10 C382,16 378,22 370,22 C362,22 356,18 355,8Z" fill="#a9d0f2"/><ellipse cx="374" cy="96" rx="9" ry="3" fill="#a9d0f2"/><ellipse cx="496" cy="87" rx="9" ry="3" fill="#a9d0f2"/><path d="M360,92 C352,100 350,110 348,120" fill="none" stroke="#a9d0f2" stroke-width="2.5"/><ellipse cx="556" cy="10" rx="3" ry="5" fill="#a9d0f2"/><ellipse cx="560" cy="40" rx="3" ry="4" fill="#a9d0f2"/><ellipse cx="580" cy="44" rx="2" ry="3" fill="#a9d0f2"/><ellipse cx="540" cy="10" rx="2" ry="3" fill="#a9d0f2"/><ellipse cx="183" cy="163" rx="2" ry="3" fill="#a9d0f2"/><ellipse cx="235" cy="230" rx="2" ry="3" fill="#a9d0f2"/><ellipse cx="433" cy="178" rx="2" ry="4" fill="#a9d0f2"/><ellipse cx="474" cy="165" rx="2" ry="3" fill="#a9d0f2"/><ellipse cx="388" cy="240" rx="3" ry="2" fill="#a9d0f2"/><ellipse cx="290" cy="190" rx="2" ry="3" fill="#a9d0f2"/><path d="M280,120 C282.5,119.7 289.7,118.3 295,118 C300.3,117.7 306.2,116.8 312,118 C317.8,119.2 324.5,123.0 330,125 C335.5,127.0 340.0,129.2 345,130 C350.0,130.8 357.5,130.0 360,130" fill="none" stroke="#fbfbfb" stroke-width="1.6" stroke-linecap="round"/><path d="M250,130 C250.8,126.7 253.3,115.8 255,110 C256.7,104.2 257.8,100.0 260,95 C262.2,90.0 266.7,82.5 268,80" fill="none" stroke="#fbfbfb" stroke-width="1.6" stroke-linecap="round"/><path d="M345,130 C347.5,131.7 354.2,137.0 360,140 C365.8,143.0 376.7,146.7 380,148" fill="none" stroke="#fbfbfb" stroke-width="1.6" stroke-linecap="round"/><path d="M316,130 C318.3,130.3 326.0,129.0 330,132 C334.0,135.0 338.3,145.3 340,148" fill="none" stroke="#fbfbfb" stroke-width="1.6" stroke-linecap="round"/><path d="M0,40 C3.3,39.2 13.0,35.3 20,35 C27.0,34.7 38.3,37.5 42,38" fill="none" stroke="#fbfbfb" stroke-width="1.6" stroke-linecap="round"/><path d="M0,100 C5.0,101.3 20.0,106.0 30,108 C40.0,110.0 51.7,112.0 60,112 C68.3,112.0 71.7,110.8 80,108 C88.3,105.2 101.7,99.7 110,95 C118.3,90.3 123.3,84.2 130,80 C136.7,75.8 141.7,73.3 150,70 C158.3,66.7 171.7,62.5 180,60 C188.3,57.5 196.7,55.8 200,55" fill="none" stroke="#fbfbfb" stroke-width="1.6" stroke-linecap="round"/><path d="M100,60 C101.7,61.7 107.5,66.7 110,70 C112.5,73.3 112.5,76.7 115,80 C117.5,83.3 120.8,87.5 125,90 C129.2,92.5 135.0,94.2 140,95 C145.0,95.8 150.0,94.2 155,95 C160.0,95.8 167.5,99.2 170,100" fill="none" stroke="#fbfbfb" stroke-width="1.6" stroke-linecap="round"/><path d="M55,145 C55.8,141.7 57.5,130.8 60,125 C62.5,119.2 68.3,112.5 70,110" fill="none" stroke="#fbfbfb" stroke-width="1.6" stroke-linecap="round"/><path d="M60,100 C61.7,99.2 65.0,95.3 70,95 C75.0,94.7 85.0,96.3 90,98 C95.0,99.7 98.3,103.8 100,105" fill="none" stroke="#fbfbfb" stroke-width="1.6" stroke-linecap="round"/><path d="M107,95 C107.2,98.3 107.2,109.2 108,115 C108.8,120.8 110.0,124.5 112,130 C114.0,135.5 118.7,145.0 120,148" fill="none" stroke="#fbfbfb" stroke-width="1.6" stroke-linecap="round"/><path d="M150,60 C151.7,62.5 157.5,69.2 160,75 C162.5,80.8 164.2,91.7 165,95" fill="none" stroke="#fbfbfb" stroke-width="1.6" stroke-linecap="round"/><path d="M120,150 C120.8,151.7 124.7,155.8 125,160 C125.3,164.2 122.8,170.8 122,175 C121.2,179.2 117.8,181.7 120,185 C122.2,188.3 131.7,191.7 135,195 C138.3,198.3 138.3,201.7 140,205 C141.7,208.3 144.2,213.3 145,215" fill="none" stroke="#fbfbfb" stroke-width="1.6" stroke-linecap="round"/><path d="M0,210 C3.3,210.8 14.7,213.3 20,215 C25.3,216.7 29.5,216.7 32,220 C34.5,223.3 32.8,230.8 35,235 C37.2,239.2 40.8,241.7 45,245 C49.2,248.3 55.0,252.2 60,255 C65.0,257.8 72.5,260.8 75,262" fill="none" stroke="#fbfbfb" stroke-width="1.6" stroke-linecap="round"/><path d="M142,150 C143.3,151.7 146.2,157.0 150,160 C153.8,163.0 160.0,164.7 165,168 C170.0,171.3 177.5,178.0 180,180" fill="none" stroke="#fbfbfb" stroke-width="1.6" stroke-linecap="round"/><path d="M270,210 C272.5,209.2 280.0,205.8 285,205 C290.0,204.2 294.2,204.2 300,205 C305.8,205.8 312.5,206.7 320,210 C327.5,213.3 338.3,220.8 345,225 C351.7,229.2 356.7,230.0 360,235 C363.3,240.0 364.2,251.7 365,255" fill="none" stroke="#fbfbfb" stroke-width="1.6" stroke-linecap="round"/><path d="M280,205 C280.5,209.2 283.0,220.8 283,230 C283.0,239.2 280.8,248.3 280,260 C279.2,271.7 278.3,293.3 278,300" fill="none" stroke="#fbfbfb" stroke-width="1.6" stroke-linecap="round"/><path d="M330,195 C331.7,192.5 337.5,184.2 340,180 C342.5,175.8 344.2,171.7 345,170" fill="none" stroke="#fbfbfb" stroke-width="1.6" stroke-linecap="round"/><path d="M370,165 C373.3,164.2 384.2,161.2 390,160 C395.8,158.8 402.5,158.3 405,158" fill="none" stroke="#fbfbfb" stroke-width="1.6" stroke-linecap="round"/><path d="M420,150 C421.7,153.3 428.7,161.7 430,170 C431.3,178.3 428.8,188.3 428,200 C427.2,211.7 427.2,228.3 425,240 C422.8,251.7 416.7,265.0 415,270" fill="none" stroke="#fbfbfb" stroke-width="1.6" stroke-linecap="round"/><path d="M505,195 C505.8,197.5 508.3,204.2 510,210 C511.7,215.8 512.5,223.3 515,230 C517.5,236.7 521.7,244.2 525,250 C528.3,255.8 533.3,262.5 535,265" fill="none" stroke="#fbfbfb" stroke-width="1.6" stroke-linecap="round"/><path d="M560,215 C560.8,220.8 565.0,239.2 565,250 C565.0,260.8 560.8,275.0 560,280" fill="none" stroke="#fbfbfb" stroke-width="1.6" stroke-linecap="round"/><path d="M470,0 C473.3,0.8 481.7,5.0 490,5 C498.3,5.0 515.0,0.8 520,0" fill="none" stroke="#fbfbfb" stroke-width="1.6" stroke-linecap="round"/><path d="M480,20 C483.3,20.3 493.3,20.7 500,22 C506.7,23.3 514.2,25.0 520,28 C525.8,31.0 532.5,38.0 535,40" fill="none" stroke="#fbfbfb" stroke-width="1.6" stroke-linecap="round"/><path d="M410,48 C413.3,47.8 425.0,45.8 430,47 C435.0,48.2 437.5,52.0 440,55 C442.5,58.0 444.2,63.3 445,65" fill="none" stroke="#fbfbfb" stroke-width="1.6" stroke-linecap="round"/><path d="M540,70 C543.3,71.7 553.3,78.0 560,80 C566.7,82.0 572.0,81.2 580,82 C588.0,82.8 603.3,84.5 608,85" fill="none" stroke="#fbfbfb" stroke-width="1.6" stroke-linecap="round"/><path d="M560,0 C559.2,3.3 557.5,14.2 555,20 C552.5,25.8 549.2,30.0 545,35 C540.8,40.0 532.5,47.5 530,50" fill="none" stroke="#fbfbfb" stroke-width="1.6" stroke-linecap="round"/><path d="M404,85 C406.7,84.7 414.0,83.5 420,83 C426.0,82.5 436.7,82.2 440,82" fill="none" stroke="#fbfbfb" stroke-width="1.6" stroke-linecap="round"/><path d="M330,140 C332.5,141.7 341.7,145.8 345,150 C348.3,154.2 349.2,162.5 350,165" fill="none" stroke="#fbfbfb" stroke-width="1.6" stroke-linecap="round"/><path d="M360,110 C362.5,109.2 370.0,105.3 375,105 C380.0,104.7 385.8,106.3 390,108 C394.2,109.7 398.3,113.8 400,115" fill="none" stroke="#fbfbfb" stroke-width="1.6" stroke-linecap="round"/><path d="M385,120 C386.7,121.7 392.5,125.8 395,130 C397.5,134.2 399.2,142.5 400,145" fill="none" stroke="#fbfbfb" stroke-width="1.6" stroke-linecap="round"/><path d="M365,95 C366.7,98.3 372.5,107.5 375,115 C377.5,122.5 379.2,135.8 380,140" fill="none" stroke="#fbfbfb" stroke-width="1.6" stroke-linecap="round"/><path d="M0,250 C3.3,251.7 13.3,256.7 20,260 C26.7,263.3 34.2,265.8 40,270 C45.8,274.2 52.5,282.5 55,285" fill="none" stroke="#fbfbfb" stroke-width="1.6" stroke-linecap="round"/><path d="M450,120 C455.0,120.0 471.7,119.2 480,120 C488.3,120.8 496.7,124.2 500,125" fill="none" stroke="#fbfbfb" stroke-width="1.6" stroke-linecap="round"/><path d="M440,20 C441.7,23.3 447.5,33.3 450,40 C452.5,46.7 454.2,56.7 455,60" fill="none" stroke="#fbfbfb" stroke-width="1.6" stroke-linecap="round"/><path d="M380,0 C380.8,3.3 383.0,13.3 385,20 C387.0,26.7 389.8,33.3 392,40 C394.2,46.7 397.0,56.7 398,60" fill="none" stroke="#fbfbfb" stroke-width="1.6" stroke-linecap="round"/><path d="M355,0 C356.7,1.7 360.8,6.7 365,10 C369.2,13.3 375.0,15.8 380,20 C385.0,24.2 391.0,30.0 395,35 C399.0,40.0 399.8,45.8 404,50 C408.2,54.2 417.3,58.3 420,60" fill="none" stroke="#fbfbfb" stroke-width="1.6" stroke-linecap="round"/><path d="M385,60 C387.5,60.3 394.2,62.0 400,62 C405.8,62.0 413.3,60.0 420,60 C426.7,60.0 436.7,61.7 440,62" fill="none" stroke="#fbfbfb" stroke-width="1.6" stroke-linecap="round"/><path d="M395,95 C397.5,95.8 405.0,98.3 410,100 C415.0,101.7 420.0,103.3 425,105 C430.0,106.7 437.5,109.2 440,110" fill="none" stroke="#fbfbfb" stroke-width="1.6" stroke-linecap="round"/><path d="M420,125 C423.3,125.8 433.3,128.3 440,130 C446.7,131.7 456.7,134.2 460,135" fill="none" stroke="#fbfbfb" stroke-width="1.6" stroke-linecap="round"/><path d="M160,110 C161.7,112.5 167.5,120.0 170,125 C172.5,130.0 173.3,135.8 175,140 C176.7,144.2 179.2,148.3 180,150" fill="none" stroke="#fbfbfb" stroke-width="1.6" stroke-linecap="round"/><path d="M230,80 C231.7,83.3 237.5,93.3 240,100 C242.5,106.7 243.3,113.3 245,120 C246.7,126.7 249.2,136.7 250,140" fill="none" stroke="#fbfbfb" stroke-width="1.6" stroke-linecap="round"/><path d="M480,60 C482.5,60.3 490.0,62.3 495,62 C500.0,61.7 505.0,58.3 510,58 C515.0,57.7 522.5,59.7 525,60" fill="none" stroke="#fbfbfb" stroke-width="1.6" stroke-linecap="round"/><path d="M560,100 C563.3,100.0 573.3,99.7 580,100 C586.7,100.3 596.7,101.7 600,102" fill="none" stroke="#fbfbfb" stroke-width="1.6" stroke-linecap="round"/><path d="M540,120 C543.3,120.8 553.3,123.3 560,125 C566.7,126.7 572.0,129.5 580,130 C588.0,130.5 603.3,128.3 608,128" fill="none" stroke="#fbfbfb" stroke-width="1.6" stroke-linecap="round"/><path d="M425,0 C425.8,2.5 427.5,10.0 430,15 C432.5,20.0 438.3,27.5 440,30" fill="none" stroke="#fbfbfb" stroke-width="1.6" stroke-linecap="round"/><path d="M500,0 C501.7,1.7 505.8,7.5 510,10 C514.2,12.5 519.2,12.5 525,15 C530.8,17.5 541.7,23.3 545,25" fill="none" stroke="#fbfbfb" stroke-width="1.6" stroke-linecap="round"/><path d="M585,0 C585.8,3.3 588.3,13.3 590,20 C591.7,26.7 594.2,36.7 595,40" fill="none" stroke="#fbfbfb" stroke-width="1.6" stroke-linecap="round"/><path d="M10,150 C13.3,150.3 23.3,150.7 30,152 C36.7,153.3 44.2,155.0 50,158 C55.8,161.0 62.5,168.0 65,170" fill="none" stroke="#fbfbfb" stroke-width="1.6" stroke-linecap="round"/><path d="M220,230 C223.3,233.3 234.2,243.3 240,250 C245.8,256.7 251.3,261.7 255,270 C258.7,278.3 260.8,295.0 262,300" fill="none" stroke="#fbfbfb" stroke-width="1.6" stroke-linecap="round"/><path d="M310,230 C313.3,230.0 323.3,228.3 330,230 C336.7,231.7 346.7,238.3 350,240" fill="none" stroke="#fbfbfb" stroke-width="1.6" stroke-linecap="round"/><path d="M170,270 C173.3,270.8 183.3,272.5 190,275 C196.7,277.5 204.2,280.8 210,285 C215.8,289.2 222.5,297.5 225,300" fill="none" stroke="#fbfbfb" stroke-width="1.6" stroke-linecap="round"/><path d="M420,280 C423.3,280.8 433.3,283.3 440,285 C446.7,286.7 456.7,289.2 460,290" fill="none" stroke="#fbfbfb" stroke-width="1.6" stroke-linecap="round"/><path d="M540,160 C543.3,160.8 553.3,163.3 560,165 C566.7,166.7 576.7,169.2 580,170" fill="none" stroke="#fbfbfb" stroke-width="1.6" stroke-linecap="round"/><path d="M236.7,0 C239.5,2.6 247.3,10.0 253.6,15.9 C259.9,21.8 267.6,30.1 274.2,35.6 C280.8,41.1 286.8,45.7 293,48.8 C299.2,51.9 306.2,53.5 311.7,54.4 C317.2,55.3 323.4,54.4 325.8,54.4" fill="none" stroke="#fbfbfb" stroke-width="1.6" stroke-linecap="round"/><path d="M232,37.5 C237.5,40.6 254.6,51.0 264.8,56.3 C275.0,61.6 285.2,67.2 293,69.4 C300.8,71.6 308.6,69.4 311.7,69.4" fill="none" stroke="#fbfbfb" stroke-width="1.6" stroke-linecap="round"/><path d="M217.9,73.2 C222.6,74.8 235.1,81.5 246,82.6 C256.9,83.7 277.3,80.2 283.6,79.7" fill="none" stroke="#fbfbfb" stroke-width="1.6" stroke-linecap="round"/><path d="M260,23.5 L293,45" fill="none" stroke="#fbfbfb" stroke-width="1.6" stroke-linecap="round"/><path d="M264.8,4.7 L295.8,32.8" fill="none" stroke="#fbfbfb" stroke-width="1.6" stroke-linecap="round"/><path d="M171,56.3 C174.1,53.9 183.6,46.9 189.8,42.2 C196.1,37.5 200.7,35.1 208.5,28.1 C216.3,21.1 232.0,4.7 236.7,0" fill="none" stroke="#fbfbfb" stroke-width="1.6" stroke-linecap="round"/><path d="M216,52.5 C219.4,49.7 228.6,44.0 236.7,35.6 C244.8,27.2 260.1,7.5 264.8,1.9" fill="none" stroke="#fbfbfb" stroke-width="1.6" stroke-linecap="round"/><path d="M241.4,96 C245.3,88.6 257.8,65.2 264.8,51.6 C271.8,38.0 280.0,22.7 283.6,14.1 C287.2,5.5 285.9,2.4 286.4,0" fill="none" stroke="#fbfbfb" stroke-width="1.6" stroke-linecap="round"/><path d="M255.4,96 C258.5,91.0 267.9,76.2 274.2,65.7 C280.5,55.2 287.1,42.8 293,32.8 C298.9,22.8 307.0,10.1 309.8,5.6" fill="none" stroke="#fbfbfb" stroke-width="1.6" stroke-linecap="round"/><path d="M304.2,56.3 L304.2,96" fill="none" stroke="#fbfbfb" stroke-width="1.6" stroke-linecap="round"/><path d="M321,0 L321,94" fill="none" stroke="#fbfbfb" stroke-width="1.6" stroke-linecap="round"/><path d="M171,28 C172.6,29.9 176.5,37.4 180.4,39.4 C184.3,41.4 192.2,40.1 194.5,40.3" fill="none" stroke="#fbfbfb" stroke-width="1.6" stroke-linecap="round"/><path d="M171,14 C171.8,16.0 174.5,22.0 176,26 C177.5,30.0 179.3,36.0 180,38" fill="none" stroke="#fbfbfb" stroke-width="1.6" stroke-linecap="round"/><path d="M193.5,0 L206.6,5.6" fill="none" stroke="#fbfbfb" stroke-width="1.6" stroke-linecap="round"/><path d="M180.4,56.3 L195.4,45" fill="none" stroke="#fbfbfb" stroke-width="1.6" stroke-linecap="round"/><path d="M241.4,48.8 C243.2,49.0 248.1,49.5 252,50 C255.9,50.5 262.7,51.3 264.8,51.6" fill="none" stroke="#fbfbfb" stroke-width="1.6" stroke-linecap="round"/><path d="M321,56.3 C323.3,55.6 330.3,53.2 335,52 C339.7,50.8 346.8,49.3 349.2,48.8" fill="none" stroke="#fbfbfb" stroke-width="1.6" stroke-linecap="round"/><path d="M321,31 C323.3,31.3 330.3,32.2 335,33 C339.7,33.8 346.8,35.2 349.2,35.6" fill="none" stroke="#fbfbfb" stroke-width="1.6" stroke-linecap="round"/><path d="M297.6,82.6 L311.7,82.6" fill="none" stroke="#fbfbfb" stroke-width="1.6" stroke-linecap="round"/><path d="M330.5,65.7 C332.1,66.8 336.6,70.1 340,72 C343.4,73.9 349.2,76.2 351,77" fill="none" stroke="#fbfbfb" stroke-width="1.6" stroke-linecap="round"/><path d="M335,0 C335.8,1.7 338.3,7.0 340,10 C341.7,13.0 344.2,16.7 345,18" fill="none" stroke="#fbfbfb" stroke-width="1.6" stroke-linecap="round"/><path d="M200,60 C202.5,61.0 209.7,63.5 215,66 C220.3,68.5 229.2,73.5 232,75" fill="none" stroke="#fbfbfb" stroke-width="1.6" stroke-linecap="round"/><path d="M255,60 C256.2,61.7 259.5,66.7 262,70 C264.5,73.3 267.0,75.8 270,80 C273.0,84.2 278.3,92.5 280,95" fill="none" stroke="#fbfbfb" stroke-width="1.6" stroke-linecap="round"/><path d="M285,20 C287.5,21.3 295.0,26.3 300,28 C305.0,29.7 312.5,29.7 315,30" fill="none" stroke="#fbfbfb" stroke-width="1.6" stroke-linecap="round"/><path d="M0,68 C7.0,66.8 30.0,62.8 42,61 C54.0,59.2 65.2,59.5 72,57 C78.8,54.5 80.0,49.7 83,46 C86.0,42.3 87.2,38.5 90,35 C92.8,31.5 96.7,28.8 100,25 C103.3,21.2 106.5,16.2 110,12 C113.5,7.8 119.2,2.0 121,0" fill="none" stroke="#edc85a" stroke-width="3.9" stroke-linecap="round" stroke-linejoin="round"/><path d="M0,30 C7.0,28.0 29.3,21.3 42,18 C54.7,14.7 67.2,12.5 76,10 C84.8,7.5 91.0,4.7 95,3 C99.0,1.3 99.2,0.5 100,0" fill="none" stroke="#edc85a" stroke-width="3.3000000000000003" stroke-linecap="round" stroke-linejoin="round"/><path d="M15,86 C19.5,84.2 34.5,77.7 42,75 C49.5,72.3 54.5,71.8 60,70 C65.5,68.2 70.8,66.5 75,64 C79.2,61.5 83.3,56.5 85,55" fill="none" stroke="#edc85a" stroke-width="3.3000000000000003" stroke-linecap="round" stroke-linejoin="round"/><path d="M0,176 C5.8,174.0 23.8,168.3 35,164 C46.2,159.7 54.3,156.0 67,150 C79.7,144.0 96.7,134.7 111,128 C125.3,121.3 138.2,117.0 153,110 C167.8,103.0 189.8,92.3 200,86 C210.2,79.7 208.2,77.8 214,72 C219.8,66.2 228.0,58.8 235,51.5 C242.0,44.2 248.3,36.6 256,28 C263.7,19.4 276.8,4.7 281,0" fill="none" stroke="#edc85a" stroke-width="4.050000000000001" stroke-linecap="round" stroke-linejoin="round"/><path d="M153,0 C155.3,4.7 162.3,18.3 167,28 C171.7,37.7 176.3,49.2 181,58 C185.7,66.8 191.2,75.3 195,81 C198.8,86.7 200.2,85.3 204,92 C207.8,98.7 214.0,113.8 218,121 C222.0,128.2 224.0,130.5 228,135 C232.0,139.5 237.8,145.2 242,148 C246.2,150.8 247.2,150.1 253,152 C258.8,153.9 269.1,157.2 276.5,159.7 C283.9,162.1 289.3,165.1 297.4,166.7 C305.5,168.3 315.7,168.8 325,169.5 C334.3,170.2 346.5,171.5 353,171 C359.5,170.5 359.3,169.5 364,166.7 C368.7,163.9 376.3,157.1 381,154 C385.7,150.9 388.2,150.0 392,148 C395.8,146.0 397.3,147.7 404,142 C410.7,136.3 423.8,122.7 432,114 C440.2,105.3 446.8,97.0 453,90 C459.2,83.0 465.6,76.6 469,72 C472.4,67.4 473.2,68.1 473.5,62.6 C473.8,57.1 472.1,45.9 471,39 C469.9,32.1 467.5,27.5 467,21 C466.5,14.5 467.8,3.5 468,0" fill="none" stroke="#edc85a" stroke-width="4.275" stroke-linecap="round" stroke-linejoin="round"/><path d="M167,28 C170.0,26.3 180.3,21.7 185,18 C189.7,14.3 193.0,9.0 195,6 C197.0,3.0 196.7,1.0 197,0" fill="none" stroke="#edc85a" stroke-width="3.3000000000000003" stroke-linecap="round" stroke-linejoin="round"/><path d="M198,0 C198.3,1.3 197.3,3.3 200,8 C202.7,12.7 211.0,22.8 214,28 C217.0,33.2 215.2,35.0 218,39 C220.8,43.0 228.8,49.8 231,52" fill="none" stroke="#edc85a" stroke-width="3.3000000000000003" stroke-linecap="round" stroke-linejoin="round"/><path d="M314,0 C314.5,7.0 317.0,28.2 317,42 C317.0,55.8 315.2,72.0 314,83 C312.8,94.0 311.8,99.3 310,108 C308.2,116.7 304.7,128.0 303,135 C301.3,142.0 300.9,144.5 300,150 C299.1,155.5 296.9,162.2 297.4,168 C297.9,173.8 301.6,177.6 303,185 C304.4,192.4 305.0,202.2 305.7,212.6 C306.4,223.0 306.5,237.0 307,247.4 C307.5,257.8 307.8,266.2 308.5,275 C309.2,283.8 310.8,295.8 311.3,300" fill="none" stroke="#edc85a" stroke-width="4.050000000000001" stroke-linecap="round" stroke-linejoin="round"/><path d="M340,97 C341.0,99.3 344.3,105.2 346,111 C347.7,116.8 348.6,125.5 350,132 C351.4,138.5 352.1,144.0 354.4,150 C356.7,156.0 361.9,163.3 364,168 C366.1,172.7 367.7,173.6 367,178 C366.3,182.4 359.6,188.7 360,194.5 C360.4,200.3 366.7,205.7 369.7,212.6 C372.7,219.5 374.3,228.3 378,236 C381.7,243.7 388.3,252.0 392,258.5 C395.7,265.0 398.3,269.9 400.3,275 C402.3,280.1 403.1,284.8 404,289 C404.9,293.2 405.7,298.2 406,300" fill="none" stroke="#edc85a" stroke-width="3.9" stroke-linecap="round" stroke-linejoin="round"/><path d="M283,0 C285.8,0.5 290.7,2.7 300,3 C309.3,3.3 331.5,2.5 339,2 C346.5,1.5 344.0,0.3 345,0" fill="none" stroke="#edc85a" stroke-width="3.525" stroke-linecap="round" stroke-linejoin="round"/><path d="M466.6,21 C470.1,24.0 481.2,33.9 487.4,39 C493.6,44.1 497.5,45.2 504,51.5 C510.5,57.8 519.9,70.0 526.4,76.5 C532.9,83.0 537.9,85.5 543,90.4 C548.1,95.3 551.9,99.9 557,105.7 C562.1,111.5 569.0,119.3 573.7,125 C578.4,130.7 581.3,135.5 585,140 C588.7,144.5 592.2,147.8 596,152 C599.8,156.2 606.0,162.8 608,165" fill="none" stroke="#edc85a" stroke-width="4.050000000000001" stroke-linecap="round" stroke-linejoin="round"/><path d="M530.6,61.2 C535.0,60.3 549.1,56.1 557,55.6 C564.9,55.1 572.2,58.6 578,58.4 C583.8,58.2 587.0,54.9 592,54.2 C597.0,53.5 605.3,54.2 608,54.2" fill="none" stroke="#edc85a" stroke-width="3.9" stroke-linecap="round" stroke-linejoin="round"/><path d="M530.6,61.2 C532.5,63.3 539.1,69.1 541.7,73.7 C544.3,78.3 544.6,85.0 546,89 C547.4,93.0 549.3,96.0 550,97.4" fill="none" stroke="#edc85a" stroke-width="3.525" stroke-linecap="round" stroke-linejoin="round"/><path d="M212,146 C210.7,148.0 207.3,153.3 204,158 C200.7,162.7 195.8,167.7 192,174 C188.2,180.3 184.0,191.7 181,196 C178.0,200.3 178.7,197.5 174,200 C169.3,202.5 157.7,207.7 153,211 C148.3,214.3 147.7,216.7 146,220 C144.3,223.3 145.3,227.7 143,231 C140.7,234.3 136.7,236.5 132,240 C127.3,243.5 119.3,247.8 115,252 C110.7,256.2 108.5,260.0 106,265 C103.5,270.0 102.7,276.2 100,282 C97.3,287.8 91.7,297.0 90,300" fill="none" stroke="#edc85a" stroke-width="4.050000000000001" stroke-linecap="round" stroke-linejoin="round"/><path d="M392,148 C394.0,149.3 399.7,152.5 404,155.6 C408.3,158.7 413.8,161.1 418,166.7 C422.2,172.3 424.4,182.1 429,189 C433.6,195.9 440.6,201.0 445.7,208.4 C450.8,215.8 455.4,225.5 459.6,233.4 C463.8,241.3 467.6,248.8 470.8,255.7 C474.0,262.6 476.9,267.6 479,275 C481.1,282.4 482.6,295.8 483.3,300" fill="none" stroke="#edc85a" stroke-width="4.050000000000001" stroke-linecap="round" stroke-linejoin="round"/><path d="M0,68 C7.0,66.8 30.0,62.8 42,61 C54.0,59.2 65.2,59.5 72,57 C78.8,54.5 80.0,49.7 83,46 C86.0,42.3 87.2,38.5 90,35 C92.8,31.5 96.7,28.8 100,25 C103.3,21.2 106.5,16.2 110,12 C113.5,7.8 119.2,2.0 121,0" fill="none" stroke="#f7d46c" stroke-width="3.0" stroke-linecap="round" stroke-linejoin="round"/><path d="M0,30 C7.0,28.0 29.3,21.3 42,18 C54.7,14.7 67.2,12.5 76,10 C84.8,7.5 91.0,4.7 95,3 C99.0,1.3 99.2,0.5 100,0" fill="none" stroke="#f7d46c" stroke-width="2.4000000000000004" stroke-linecap="round" stroke-linejoin="round"/><path d="M15,86 C19.5,84.2 34.5,77.7 42,75 C49.5,72.3 54.5,71.8 60,70 C65.5,68.2 70.8,66.5 75,64 C79.2,61.5 83.3,56.5 85,55" fill="none" stroke="#f7d46c" stroke-width="2.4000000000000004" stroke-linecap="round" stroke-linejoin="round"/><path d="M0,176 C5.8,174.0 23.8,168.3 35,164 C46.2,159.7 54.3,156.0 67,150 C79.7,144.0 96.7,134.7 111,128 C125.3,121.3 138.2,117.0 153,110 C167.8,103.0 189.8,92.3 200,86 C210.2,79.7 208.2,77.8 214,72 C219.8,66.2 228.0,58.8 235,51.5 C242.0,44.2 248.3,36.6 256,28 C263.7,19.4 276.8,4.7 281,0" fill="none" stroke="#f7d46c" stroke-width="3.1500000000000004" stroke-linecap="round" stroke-linejoin="round"/><path d="M153,0 C155.3,4.7 162.3,18.3 167,28 C171.7,37.7 176.3,49.2 181,58 C185.7,66.8 191.2,75.3 195,81 C198.8,86.7 200.2,85.3 204,92 C207.8,98.7 214.0,113.8 218,121 C222.0,128.2 224.0,130.5 228,135 C232.0,139.5 237.8,145.2 242,148 C246.2,150.8 247.2,150.1 253,152 C258.8,153.9 269.1,157.2 276.5,159.7 C283.9,162.1 289.3,165.1 297.4,166.7 C305.5,168.3 315.7,168.8 325,169.5 C334.3,170.2 346.5,171.5 353,171 C359.5,170.5 359.3,169.5 364,166.7 C368.7,163.9 376.3,157.1 381,154 C385.7,150.9 388.2,150.0 392,148 C395.8,146.0 397.3,147.7 404,142 C410.7,136.3 423.8,122.7 432,114 C440.2,105.3 446.8,97.0 453,90 C459.2,83.0 465.6,76.6 469,72 C472.4,67.4 473.2,68.1 473.5,62.6 C473.8,57.1 472.1,45.9 471,39 C469.9,32.1 467.5,27.5 467,21 C466.5,14.5 467.8,3.5 468,0" fill="none" stroke="#f7d46c" stroke-width="3.375" stroke-linecap="round" stroke-linejoin="round"/><path d="M167,28 C170.0,26.3 180.3,21.7 185,18 C189.7,14.3 193.0,9.0 195,6 C197.0,3.0 196.7,1.0 197,0" fill="none" stroke="#f7d46c" stroke-width="2.4000000000000004" stroke-linecap="round" stroke-linejoin="round"/><path d="M198,0 C198.3,1.3 197.3,3.3 200,8 C202.7,12.7 211.0,22.8 214,28 C217.0,33.2 215.2,35.0 218,39 C220.8,43.0 228.8,49.8 231,52" fill="none" stroke="#f7d46c" stroke-width="2.4000000000000004" stroke-linecap="round" stroke-linejoin="round"/><path d="M314,0 C314.5,7.0 317.0,28.2 317,42 C317.0,55.8 315.2,72.0 314,83 C312.8,94.0 311.8,99.3 310,108 C308.2,116.7 304.7,128.0 303,135 C301.3,142.0 300.9,144.5 300,150 C299.1,155.5 296.9,162.2 297.4,168 C297.9,173.8 301.6,177.6 303,185 C304.4,192.4 305.0,202.2 305.7,212.6 C306.4,223.0 306.5,237.0 307,247.4 C307.5,257.8 307.8,266.2 308.5,275 C309.2,283.8 310.8,295.8 311.3,300" fill="none" stroke="#f7d46c" stroke-width="3.1500000000000004" stroke-linecap="round" stroke-linejoin="round"/><path d="M340,97 C341.0,99.3 344.3,105.2 346,111 C347.7,116.8 348.6,125.5 350,132 C351.4,138.5 352.1,144.0 354.4,150 C356.7,156.0 361.9,163.3 364,168 C366.1,172.7 367.7,173.6 367,178 C366.3,182.4 359.6,188.7 360,194.5 C360.4,200.3 366.7,205.7 369.7,212.6 C372.7,219.5 374.3,228.3 378,236 C381.7,243.7 388.3,252.0 392,258.5 C395.7,265.0 398.3,269.9 400.3,275 C402.3,280.1 403.1,284.8 404,289 C404.9,293.2 405.7,298.2 406,300" fill="none" stroke="#f7d46c" stroke-width="3.0" stroke-linecap="round" stroke-linejoin="round"/><path d="M283,0 C285.8,0.5 290.7,2.7 300,3 C309.3,3.3 331.5,2.5 339,2 C346.5,1.5 344.0,0.3 345,0" fill="none" stroke="#f7d46c" stroke-width="2.625" stroke-linecap="round" stroke-linejoin="round"/><path d="M466.6,21 C470.1,24.0 481.2,33.9 487.4,39 C493.6,44.1 497.5,45.2 504,51.5 C510.5,57.8 519.9,70.0 526.4,76.5 C532.9,83.0 537.9,85.5 543,90.4 C548.1,95.3 551.9,99.9 557,105.7 C562.1,111.5 569.0,119.3 573.7,125 C578.4,130.7 581.3,135.5 585,140 C588.7,144.5 592.2,147.8 596,152 C599.8,156.2 606.0,162.8 608,165" fill="none" stroke="#f7d46c" stroke-width="3.1500000000000004" stroke-linecap="round" stroke-linejoin="round"/><path d="M530.6,61.2 C535.0,60.3 549.1,56.1 557,55.6 C564.9,55.1 572.2,58.6 578,58.4 C583.8,58.2 587.0,54.9 592,54.2 C597.0,53.5 605.3,54.2 608,54.2" fill="none" stroke="#f7d46c" stroke-width="3.0" stroke-linecap="round" stroke-linejoin="round"/><path d="M530.6,61.2 C532.5,63.3 539.1,69.1 541.7,73.7 C544.3,78.3 544.6,85.0 546,89 C547.4,93.0 549.3,96.0 550,97.4" fill="none" stroke="#f7d46c" stroke-width="2.625" stroke-linecap="round" stroke-linejoin="round"/><path d="M212,146 C210.7,148.0 207.3,153.3 204,158 C200.7,162.7 195.8,167.7 192,174 C188.2,180.3 184.0,191.7 181,196 C178.0,200.3 178.7,197.5 174,200 C169.3,202.5 157.7,207.7 153,211 C148.3,214.3 147.7,216.7 146,220 C144.3,223.3 145.3,227.7 143,231 C140.7,234.3 136.7,236.5 132,240 C127.3,243.5 119.3,247.8 115,252 C110.7,256.2 108.5,260.0 106,265 C103.5,270.0 102.7,276.2 100,282 C97.3,287.8 91.7,297.0 90,300" fill="none" stroke="#f7d46c" stroke-width="3.1500000000000004" stroke-linecap="round" stroke-linejoin="round"/><path d="M392,148 C394.0,149.3 399.7,152.5 404,155.6 C408.3,158.7 413.8,161.1 418,166.7 C422.2,172.3 424.4,182.1 429,189 C433.6,195.9 440.6,201.0 445.7,208.4 C450.8,215.8 455.4,225.5 459.6,233.4 C463.8,241.3 467.6,248.8 470.8,255.7 C474.0,262.6 476.9,267.6 479,275 C481.1,282.4 482.6,295.8 483.3,300" fill="none" stroke="#f7d46c" stroke-width="3.1500000000000004" stroke-linecap="round" stroke-linejoin="round"/><rect x="93" y="16.4" width="22" height="10" fill="#5b9a38" rx="1"/><text x="104.0" y="24.099999999999998" text-anchor="middle" font-family="Liberation Sans" font-weight="bold" font-size="8.5" fill="#fff">E30</text><rect x="-4" y="52" width="15" height="10.5" fill="#2e6cc0" rx="1"/><text x="3.5" y="60.2" text-anchor="middle" font-family="Liberation Sans" font-weight="bold" font-size="8.5" fill="#fff">A1</text><rect x="484.4" y="39.4" width="21.6" height="10.4" fill="#5b9a38" rx="1"/><text x="495.2" y="47.5" text-anchor="middle" font-family="Liberation Sans" font-weight="bold" font-size="8.5" fill="#fff">E30</text><rect x="596" y="54" width="16" height="10.7" fill="#2e6cc0" rx="1"/><text x="604.0" y="62.400000000000006" text-anchor="middle" font-family="Liberation Sans" font-weight="bold" font-size="8.5" fill="#fff">P1</text><rect x="299" y="273" width="19.2" height="10.8" fill="#2e6cc0" rx="1"/><text x="308.6" y="281.5" text-anchor="middle" font-family="Liberation Sans" font-weight="bold" font-size="8.5" fill="#fff">M2</text><rect x="443" y="226.2" width="30.8" height="10.8" fill="#2e6cc0" rx="1"/><text x="458.4" y="234.7" text-anchor="middle" font-family="Liberation Sans" font-weight="bold" font-size="8.5" fill="#fff">A-105</text><text x="76.5" y="13" font-family="Liberation Sans" font-size="12.0" font-weight="normal" fill="#545454" stroke="#fff" stroke-width="2.2" stroke-opacity="0.75" paint-order="stroke" >Трехгорка</text><text x="-2" y="33" font-family="Liberation Sans" font-size="12" font-weight="normal" fill="#545454" stroke="#fff" stroke-width="2.2" stroke-opacity="0.75" paint-order="stroke" >си</text><text x="33.5" y="47.5" font-family="Liberation Sans" font-size="14.5" font-weight="normal" fill="#444" stroke="#fff" stroke-width="2.2" stroke-opacity="0.75" paint-order="stroke" >Одинцово</text><text x="-3" y="93" font-family="Liberation Sans" font-size="11.9" font-weight="normal" fill="#545454" stroke="#fff" stroke-width="2.2" stroke-opacity="0.75" paint-order="stroke" >Лесной</text><text x="-9" y="104.5" font-family="Liberation Sans" font-size="11.9" font-weight="normal" fill="#545454" stroke="#fff" stroke-width="2.2" stroke-opacity="0.75" paint-order="stroke" >городок</text><text x="154.4" y="98.5" font-family="Liberation Sans" font-size="12.0" font-weight="normal" fill="#545454" stroke="#fff" stroke-width="2.2" stroke-opacity="0.75" paint-order="stroke" >Румянцево</text><text x="33.4" y="139" font-family="Liberation Sans" font-size="12.3" font-weight="normal" fill="#545454" stroke="#fff" stroke-width="2.2" stroke-opacity="0.75" paint-order="stroke" >Внуково</text><text x="83.4" y="142" font-family="Liberation Sans" font-size="12.7" font-weight="normal" fill="#545454" stroke="#fff" stroke-width="2.2" stroke-opacity="0.75" paint-order="stroke" >Московский</text><text x="231.3" y="117.5" font-family="Liberation Sans" font-size="9.4" font-weight="bold" fill="#5e6878" stroke="#fff" stroke-width="2.2" stroke-opacity="0.75" paint-order="stroke" >Р-Н ЯСЕНЕВО</text><text x="481.2" y="30" font-family="Liberation Sans" font-size="15.6" font-weight="normal" fill="#444" stroke="#fff" stroke-width="2.2" stroke-opacity="0.75" paint-order="stroke" >Люберцы</text><text x="456.6" y="72.3" font-family="Liberation Sans" font-size="12.6" font-weight="normal" fill="#545454" stroke="#fff" stroke-width="2.2" stroke-opacity="0.75" paint-order="stroke" >Котельники</text><text x="568.8" y="82" font-family="Liberation Sans" font-size="13.0" font-weight="normal" fill="#545454" stroke="#fff" stroke-width="2.2" stroke-opacity="0.75" paint-order="stroke" >Малаховка</text><text x="436.3" y="108.5" font-family="Liberation Sans" font-size="14.7" font-weight="normal" fill="#444" stroke="#fff" stroke-width="2.2" stroke-opacity="0.75" paint-order="stroke" >Дзержинский</text><text x="381" y="153.5" font-family="Liberation Sans" font-size="12.4" font-weight="normal" fill="#545454" stroke="#fff" stroke-width="2.2" stroke-opacity="0.75" paint-order="stroke" >Развилка</text><text x="495" y="167" font-family="Liberation Sans" font-size="12.5" font-weight="normal" fill="#545454" stroke="#fff" stroke-width="2.2" stroke-opacity="0.75" paint-order="stroke" >Лыткарино</text><text x="461.7" y="190" font-family="Liberation Sans" font-size="12.4" font-weight="normal" fill="#545454" stroke="#fff" stroke-width="2.2" stroke-opacity="0.75" paint-order="stroke" >Молоково</text><text x="178" y="185.5" font-family="Liberation Sans" font-size="12.3" font-weight="normal" fill="#545454" stroke="#fff" stroke-width="2.2" stroke-opacity="0.75" paint-order="stroke" >Коммунарка</text><text x="235.9" y="231.4" font-family="Liberation Sans" font-size="9.5" font-weight="bold" fill="#5e6878" stroke="#fff" stroke-width="2.2" stroke-opacity="0.75" paint-order="stroke" >Р-Н ЮЖНОЕ</text><text x="245.2" y="241.2" font-family="Liberation Sans" font-size="9.3" font-weight="bold" fill="#5e6878" stroke="#fff" stroke-width="2.2" stroke-opacity="0.75" paint-order="stroke" >БУТОВО</text><text x="347.4" y="209" font-family="Liberation Sans" font-size="13.8" font-weight="normal" fill="#444" stroke="#fff" stroke-width="2.2" stroke-opacity="0.75" paint-order="stroke" >Видное</text><text x="1.4" y="246.7" font-family="Liberation Sans" font-size="12.1" font-weight="normal" fill="#545454" stroke="#fff" stroke-width="2.2" stroke-opacity="0.75" paint-order="stroke" >Птичное</text><text x="81.4" y="262.7" font-family="Liberation Sans" font-size="12.2" font-weight="normal" fill="#545454" stroke="#fff" stroke-width="2.2" stroke-opacity="0.75" paint-order="stroke" >Ватутинки</text><text x="65.4" y="285.6" font-family="Liberation Sans" font-size="12.3" font-weight="normal" fill="#545454" stroke="#fff" stroke-width="2.2" stroke-opacity="0.75" paint-order="stroke" >Троицк</text><text x="239.6" y="269" font-family="Liberation Sans" font-size="12.1" font-weight="normal" fill="#545454" stroke="#fff" stroke-width="2.2" stroke-opacity="0.75" paint-order="stroke" >Щербинка</text><text x="412.3" y="253.6" font-family="Liberation Sans" font-size="12.6" font-weight="normal" fill="#545454" stroke="#fff" stroke-width="2.2" stroke-opacity="0.75" paint-order="stroke" >Горки</text><text x="398.5" y="265.4" font-family="Liberation Sans" font-size="12.4" font-weight="normal" fill="#545454" stroke="#fff" stroke-width="2.2" stroke-opacity="0.75" paint-order="stroke" >Ленинские</text><text x="402" y="287" font-family="Liberation Sans" font-size="12" font-weight="normal" fill="#545454" stroke="#fff" stroke-width="2.2" stroke-opacity="0.75" paint-order="stroke" >Ям</text><text x="512.5" y="264.7" font-family="Liberation Sans" font-size="12.2" font-weight="normal" fill="#545454" stroke="#fff" stroke-width="2.2" stroke-opacity="0.75" paint-order="stroke" >Володарского</text><text x="528.5" y="286.3" font-family="Liberation Sans" font-size="12.3" font-weight="normal" fill="#545454" stroke="#fff" stroke-width="2.2" stroke-opacity="0.75" paint-order="stroke" >Константиново</text><text x="451" y="305" font-family="Liberation Sans" font-size="12.4" font-weight="normal" fill="#545454" stroke="#fff" stroke-width="2.2" stroke-opacity="0.75" paint-order="stroke" >Востряково</text><text x="370" y="90" font-family="Liberation Sans" font-style="italic" font-size="14.5" fill="#4a7fc2" stroke="#fff" stroke-width="2" stroke-opacity="0.6" paint-order="stroke" transform="rotate(-14 370 90)">р. Москва</text><rect x="568" y="287" width="40" height="12" fill="#fff" fill-opacity="0.7"/><text x="571" y="296.5" font-family="Liberation Sans" font-size="10.9" fill="#0078a8">Leaflet</text><rect x="11.5" y="10.5" width="31" height="62" rx="3" fill="#fff" stroke="#a4a8ac" stroke-width="1.6"/><rect x="12.5" y="40.8" width="29" height="1" fill="#ccc"/><path d="M27,21 V33 M20.8,27 H33.2" stroke="#1a66b0" stroke-width="2.6"/><path d="M21.5,56.5 H32.5" stroke="#1a66b0" stroke-width="2.6"/><defs><linearGradient id="mk" x1="0" y1="0" x2="0" y2="1"><stop offset="0" stop-color="#2f87d5"/><stop offset="1" stop-color="#2169bd"/></linearGradient></defs><path d="M305.7,150 C302,140 293.2,131 293.2,122.4 A12.5,12.5 0 1 1 318.2,122.4 C318.2,131 309.4,140 305.7,150 Z" fill="url(#mk)" stroke="#1d5a9c" stroke-width="0.6"/><circle cx="305.7" cy="122.2" r="4.2" fill="#fff"/></svg>
<div class="a" style="left:1273px;top:734px;width:609px;height:360px;border:1px solid #e1e1e1;border-radius:4px;box-shadow:0 1px 2px rgba(0,0,0,.06);background:#fff"></div>
<div class="t" style="left:1290.0px;top:749.1px;font-size:17.2px;color:#4189bd;transform:scaleX(1.054);transform-origin:0 0;">Сеть взаимосвязей</div>
<div class="a" style="left:1299px;top:791px;width:26px;height:52px;background:#fff;border-radius:3px;box-shadow:0 1px 3px rgba(0,0,0,.35)"></div>
<div class="a" style="left:1299px;top:816px;width:26px;height:1px;background:#ccc"></div>
<div class="a" style="left:1299px;top:853px;width:26px;height:26px;background:#fff;border-radius:3px;box-shadow:0 1px 3px rgba(0,0,0,.35)"></div>
<svg class="a" style="left:1303.5px;top:796px" width="16" height="16" viewBox="0 0 16 16"><circle cx="7" cy="7" r="7" fill="#474747"/><path d="M11 11 L15 15" stroke="#474747" stroke-width="3" stroke-linecap="round"/><path d="M7 3V11M3 7H11" stroke="#fff" stroke-width="2.4"/></svg>
<svg class="a" style="left:1303.5px;top:822px" width="16" height="16" viewBox="0 0 16 16"><circle cx="7" cy="7" r="7" fill="#474747"/><path d="M11 11 L15 15" stroke="#474747" stroke-width="3" stroke-linecap="round"/><path d="M3 7H11" stroke="#fff" stroke-width="2.4"/></svg>
<svg class="a" style="left:1303.5px;top:858.5px" width="16" height="16" viewBox="0 0 16 16"><circle cx="7" cy="7" r="7" fill="#474747"/><path d="M11 11 L15 15" stroke="#474747" stroke-width="3" stroke-linecap="round"/><path d="M3.5 6V3.5H6M8 3.5H10.5V6M10.5 8V10.5H8M6 10.5H3.5V8" fill="none" stroke="#fff" stroke-width="1.4"/></svg>
<svg class="a" style="left:1500px;top:885px" width="160" height="90" viewBox="0 0 160 90"><path d="M9.8 8.4 L145 76" stroke="#8a8a8a" stroke-width="1.4"/></svg>
<div class="a" style="left:1455px;top:851px;width:55px;height:54px;border:2px solid #c4c4c4;border-radius:6px;background:#fff"></div>
<svg class="a" style="left:1466px;top:862px" width="33" height="32" viewBox="0 0 33 32"><path d="M16.5 3 L30.5 30.3 L2.5 30.3 Z" fill="#aa2c14" stroke="#aa2c14" stroke-width="3" stroke-linejoin="round"/><path d="M13.4 10.8 Q13.4 9 16.5 9 Q19.6 9 19.6 10.8 L18 23 L15 23 Z" fill="#fff"/><circle cx="16.5" cy="27.3" r="2.6" fill="#fff"/></svg>
<div class="t" style="left:1340.0px;top:915.0px;font-size:19px;color:#747474;transform:scaleX(1.106);transform-origin:0 0;">Борисов Кирилл Леонидович</div>
<div class="a" style="left:1645px;top:949px;width:55px;height:54px;border:2px solid #c4c4c4;border-radius:6px;background:#fff"></div>
<svg class="a" style="left:1654px;top:960px" width="37" height="35" viewBox="0 0 97 92">
<rect x="46.5" y="38.5" width="13" height="14" fill="#0e2e5a"/><rect x="48" y="40" width="10" height="11" fill="url(#pm)"/>
<rect x="64" y="34" width="32" height="32.5" fill="#0e2e5a"/><rect x="65.8" y="35.8" width="28.4" height="28.6" fill="url(#pm)"/>
<ellipse cx="85.5" cy="69" rx="6" ry="3" fill="#1a2638"/><rect x="83" y="65" width="5" height="4" fill="#1a2638"/>
<path d="M-0.5 88 C-1 70 4 54 16 50 L27 45.5 L49 46.5 L55 50 C60 56 62 70 62 91.5 L1 91.5 Z" fill="url(#pb)"/>
<path d="M22 48 L36 64 L39 56 L30 46 Z" fill="#fcd75c"/><path d="M52 48 L45 64 L43 56 L48 46 Z" fill="#fcd75c"/>
<path d="M27 40 L46 40 L48 54 Q38 62 29 56 Z" fill="#e0794a"/>
<path d="M37 61 L44.5 61 L46.5 89 L41 91.5 L36 89 Z" fill="#4a1410"/><path d="M37 60 L44.5 60 L43.5 66 L38 66 Z" fill="#5c1a12"/>
<ellipse cx="39" cy="30" rx="14" ry="17" fill="#e27a48"/>
<ellipse cx="43.5" cy="31.5" rx="13" ry="18" fill="url(#pf)"/>
<path d="M22.5 37 C16 28 15 12 24 5 C32 -1 50 -1 57 6 C60 10 59.5 14 56.5 18.5 C50 14 38 14.5 31 18 C27.5 20.5 26.5 27 26.5 35 Z" fill="url(#ph)"/>
<ellipse cx="26" cy="29.5" rx="3.2" ry="5.5" fill="#dd6e3c"/>
<rect x="53.4" y="50" width="31.4" height="31" fill="#0e2e5a"/><rect x="55.2" y="51.8" width="27.8" height="27.2" fill="url(#pm)"/>
<ellipse cx="69" cy="84" rx="11" ry="3.8" fill="#1a2638"/><rect x="66.5" y="80" width="5" height="4" fill="#1a2638"/>
</svg>
<div class="a" style="left:1638.9px;top:942.5px;width:19px;height:19px;border-radius:50%;background:#9b9b9b"></div>
<div class="t" style="left:1644.6px;top:946.0px;font-size:13px;color:#fff;font-weight:bold;">4</div>
<div class="t" style="left:1530.6px;top:1011.9px;font-size:19px;color:#747474;transform:scaleX(1.106);transform-origin:0 0;">Борисов Кирилл Леонидович</div>
<div class="a" style="left:1905px;top:480px;width:1px;height:599px;background:#e6e6e6"></div>
<div class="a" style="left:1906px;top:1030px;width:13px;height:49px;background:#f6f6f6"></div>
<div class="a" style="left:1909px;top:476px;width:8px;height:554px;border-radius:4px;background:#b4b4b4"></div>
</body></html>
